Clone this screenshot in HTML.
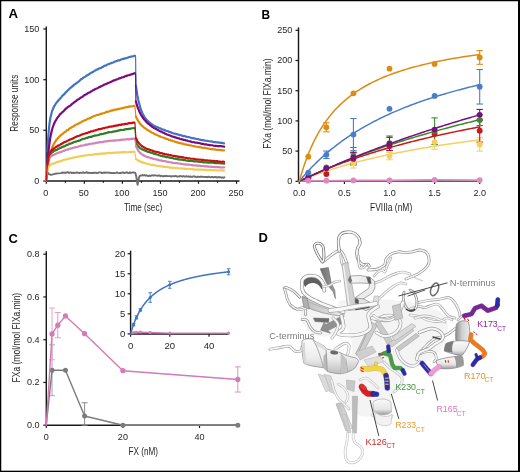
<!DOCTYPE html>
<html><head><meta charset="utf-8"><style>
html,body{margin:0;padding:0;background:#fff;}
svg{display:block;}
text{font-family:"Liberation Sans",sans-serif;}
</style></head><body>
<svg width="520" height="472" viewBox="0 0 520 472" style="will-change:transform">
<rect x="0" y="0" width="520" height="472" fill="#fff"/>
<text x="8.60" y="18.30" font-size="13.6" fill="#000" text-anchor="start" textLength="9.60" lengthAdjust="spacingAndGlyphs" font-weight="bold">A</text>
<line x1="46.30" y1="26.50" x2="46.30" y2="181.60" stroke="#1a1a1a" stroke-width="1.45"/>
<line x1="45.70" y1="181.00" x2="239.50" y2="181.00" stroke="#1a1a1a" stroke-width="1.45"/>
<line x1="43.30" y1="29.00" x2="46.30" y2="29.00" stroke="#1a1a1a" stroke-width="1.2"/>
<text x="39.30" y="31.90" font-size="9.8" fill="#231f20" text-anchor="end" textLength="15.15" lengthAdjust="spacingAndGlyphs">150</text>
<line x1="43.30" y1="79.70" x2="46.30" y2="79.70" stroke="#1a1a1a" stroke-width="1.2"/>
<text x="39.30" y="82.60" font-size="9.8" fill="#231f20" text-anchor="end" textLength="15.15" lengthAdjust="spacingAndGlyphs">100</text>
<line x1="43.30" y1="130.30" x2="46.30" y2="130.30" stroke="#1a1a1a" stroke-width="1.2"/>
<text x="39.30" y="133.20" font-size="9.8" fill="#231f20" text-anchor="end" textLength="10.10" lengthAdjust="spacingAndGlyphs">50</text>
<line x1="43.30" y1="181.00" x2="46.30" y2="181.00" stroke="#1a1a1a" stroke-width="1.2"/>
<text x="39.30" y="183.90" font-size="9.8" fill="#231f20" text-anchor="end" textLength="5.05" lengthAdjust="spacingAndGlyphs">0</text>
<line x1="46.30" y1="181.00" x2="46.30" y2="183.80" stroke="#1a1a1a" stroke-width="1.2"/>
<text x="45.80" y="196.00" font-size="9.8" fill="#231f20" text-anchor="middle" textLength="5.05" lengthAdjust="spacingAndGlyphs">0</text>
<line x1="65.32" y1="181.00" x2="65.32" y2="182.80" stroke="#1a1a1a" stroke-width="1.2"/>
<line x1="84.35" y1="181.00" x2="84.35" y2="183.80" stroke="#1a1a1a" stroke-width="1.2"/>
<text x="83.85" y="196.00" font-size="9.8" fill="#231f20" text-anchor="middle" textLength="10.10" lengthAdjust="spacingAndGlyphs">50</text>
<line x1="103.38" y1="181.00" x2="103.38" y2="182.80" stroke="#1a1a1a" stroke-width="1.2"/>
<line x1="122.40" y1="181.00" x2="122.40" y2="183.80" stroke="#1a1a1a" stroke-width="1.2"/>
<text x="121.90" y="196.00" font-size="9.8" fill="#231f20" text-anchor="middle" textLength="15.15" lengthAdjust="spacingAndGlyphs">100</text>
<line x1="141.43" y1="181.00" x2="141.43" y2="182.80" stroke="#1a1a1a" stroke-width="1.2"/>
<line x1="160.45" y1="181.00" x2="160.45" y2="183.80" stroke="#1a1a1a" stroke-width="1.2"/>
<text x="159.95" y="196.00" font-size="9.8" fill="#231f20" text-anchor="middle" textLength="15.15" lengthAdjust="spacingAndGlyphs">150</text>
<line x1="179.48" y1="181.00" x2="179.48" y2="182.80" stroke="#1a1a1a" stroke-width="1.2"/>
<line x1="198.50" y1="181.00" x2="198.50" y2="183.80" stroke="#1a1a1a" stroke-width="1.2"/>
<text x="198.00" y="196.00" font-size="9.8" fill="#231f20" text-anchor="middle" textLength="15.15" lengthAdjust="spacingAndGlyphs">200</text>
<line x1="217.52" y1="181.00" x2="217.52" y2="182.80" stroke="#1a1a1a" stroke-width="1.2"/>
<line x1="236.55" y1="181.00" x2="236.55" y2="183.80" stroke="#1a1a1a" stroke-width="1.2"/>
<text x="236.05" y="196.00" font-size="9.8" fill="#231f20" text-anchor="middle" textLength="15.15" lengthAdjust="spacingAndGlyphs">250</text>
<text x="124.00" y="210.80" font-size="10.6" fill="#231f20" text-anchor="start" textLength="38.20" lengthAdjust="spacingAndGlyphs">Time (sec)</text>
<text x="0.00" y="0.00" font-size="10.6" fill="#231f20" text-anchor="middle" textLength="57.00" lengthAdjust="spacingAndGlyphs" transform="translate(18.1,103.2) rotate(-90)">Response units</text>
<path d="M46.50,181.00 L47.00,176.00 L47.50,172.50 L49.00,174.20 L51.00,174.90 L53.00,174.30 L55.00,173.80 L58.00,173.40 L61.50,173.10 L62.00,172.46 L63.00,172.74 L64.00,172.58 L65.00,172.79 L66.00,172.81 L67.00,172.31 L68.00,172.26 L69.00,173.00 L70.00,172.48 L71.00,172.46 L72.00,173.15 L73.00,172.67 L74.00,173.00 L75.00,172.68 L76.00,172.83 L77.00,172.39 L78.00,172.82 L79.00,173.03 L80.00,172.72 L81.00,172.92 L82.00,172.85 L83.00,172.31 L84.00,172.93 L85.00,172.78 L86.00,172.52 L87.00,172.28 L88.00,173.03 L89.00,172.68 L90.00,172.90 L91.00,173.04 L92.00,172.89 L93.00,173.08 L94.00,172.61 L95.00,172.97 L96.00,172.65 L97.00,173.09 L98.00,173.04 L99.00,172.34 L100.00,172.37 L101.00,172.45 L102.00,173.12 L103.00,172.64 L104.00,172.81 L105.00,172.52 L106.00,172.71 L107.00,172.60 L108.00,172.57 L109.00,172.78 L110.00,172.78 L111.00,173.06 L112.00,172.86 L113.00,173.09 L114.00,173.02 L115.00,173.14 L116.00,172.85 L117.00,172.40 L118.00,173.02 L119.00,173.12 L120.00,173.06 L121.00,172.76 L122.00,172.89 L123.00,172.44 L124.00,173.00 L125.00,172.77 L126.00,172.51 L127.00,172.31 L128.00,173.02 L129.00,173.14 L130.00,172.33 L131.00,172.97 L132.00,172.62 L133.00,172.39 L134.00,172.51 L135.20,172.60 L136.20,176.00 L137.00,181.50 L137.60,184.80 L138.30,180.50 L139.50,176.00 L140.50,175.56 L141.50,175.67 L142.50,174.96 L143.50,175.49 L144.50,175.01 L145.50,175.64 L146.50,175.32 L147.50,175.84 L148.50,175.96 L149.50,175.55 L150.50,176.02 L151.50,175.43 L152.50,175.25 L153.50,175.74 L154.50,175.26 L155.50,175.43 L156.50,175.65 L157.50,175.86 L158.50,175.48 L159.50,175.40 L160.50,176.17 L161.50,175.70 L162.50,176.30 L163.50,176.27 L164.50,175.83 L165.50,175.93 L166.50,176.01 L167.50,176.15 L168.50,176.13 L169.50,176.13 L170.50,176.21 L171.50,176.52 L172.50,176.16 L173.50,176.12 L174.50,176.40 L175.50,175.99 L176.50,176.08 L177.50,176.71 L178.50,176.33 L179.50,176.38 L180.50,175.92 L181.50,176.31 L182.50,176.49 L183.50,176.01 L184.50,176.57 L185.50,176.61 L186.50,176.12 L187.50,176.66 L188.50,176.54 L189.50,176.76 L190.50,176.49 L191.50,176.84 L192.50,176.89 L193.50,176.27 L194.50,176.33 L195.50,176.91 L196.50,177.20 L197.50,176.58 L198.50,176.79 L199.50,176.94 L200.50,176.72 L201.50,176.79 L202.50,176.77 L203.50,176.85 L204.50,177.08 L205.50,176.84 L206.50,176.93 L207.50,177.31 L208.50,176.67 L209.50,177.18 L210.50,177.36 L211.50,177.00 L212.50,176.95 L213.50,177.50 L214.50,177.02 L215.50,177.00 L216.50,177.25 L217.50,177.51 L218.50,177.00 L219.50,177.22 L220.50,177.26 L221.50,177.73 L222.50,177.41 L223.50,177.81 L224.50,177.22" fill="none" stroke="#6e6e6e" stroke-width="1.9" stroke-linejoin="round" stroke-linecap="round"/>
<path d="M46.30,181.00 L46.40,177.58 L46.60,171.24 L46.80,165.49 L47.00,160.27 L47.20,155.54 L47.40,151.25" fill="none" stroke="#4273c4" stroke-width="1.3" stroke-linejoin="round" stroke-linecap="round"/>
<path d="M47.40,151.25 L47.80,143.72 L48.20,137.72 L48.60,132.72 L49.00,128.25 L49.40,124.57 L49.80,121.52 L50.20,119.19 L50.60,116.86 L51.00,115.31 L51.40,113.72 L51.80,112.00 L52.20,110.81 L52.60,109.98 L53.00,108.91 L53.40,108.10 L53.80,107.06 L54.20,106.19 L54.60,105.57 L55.00,105.16 L55.40,104.28 L55.80,103.72 L56.20,103.18 L56.60,102.63 L57.00,102.09 L57.40,101.83 L57.80,100.94 L58.20,100.37 L58.60,100.36 L59.00,99.85 L59.40,99.44 L59.80,98.70 L60.20,98.50 L61.20,97.38 L62.20,95.94 L63.20,95.14 L64.20,94.16 L65.20,93.06 L66.20,92.00 L67.20,90.91 L68.20,89.99 L69.20,89.01 L70.20,88.01 L71.20,87.38 L72.20,86.36 L73.20,85.76 L74.20,84.54 L75.20,84.15 L76.20,83.23 L77.20,82.56 L78.20,81.77 L79.20,81.02 L80.20,80.11 L81.20,79.10 L82.20,78.75 L83.20,77.77 L84.20,77.15 L85.20,76.66 L86.20,75.93 L87.20,75.23 L88.20,74.86 L89.20,74.08 L90.20,73.33 L91.20,72.70 L92.20,72.42 L93.20,71.65 L94.20,71.25 L95.20,70.48 L96.20,69.87 L97.20,69.51 L98.20,69.14 L99.20,68.31 L100.20,68.12 L101.20,67.70 L102.20,67.17 L103.20,66.71 L104.20,65.85 L105.20,65.71 L106.20,65.39 L107.20,64.56 L108.20,64.25 L109.20,63.83 L110.20,63.56 L111.20,63.11 L112.20,62.75 L113.20,62.52 L114.20,61.76 L115.20,61.42 L116.20,61.10 L117.20,60.75 L118.20,60.37 L119.20,60.49 L120.20,60.10 L121.20,59.39 L122.20,59.28 L123.20,58.88 L124.20,58.58 L125.20,58.30 L126.20,58.15 L127.20,57.84 L128.20,57.44 L129.20,57.08 L130.20,56.88 L131.20,56.52 L132.20,56.47 L133.20,56.30 L134.20,55.89 L135.00,55.75" fill="none" stroke="#4273c4" stroke-width="2.2" stroke-linejoin="round" stroke-linecap="round"/>
<path d="M135.00,55.75 L135.60,56.95 L135.90,85.74" fill="none" stroke="#4273c4" stroke-width="1.2" stroke-linejoin="round" stroke-linecap="round"/>
<path d="M135.90,85.57 L136.30,88.48 L136.70,91.20 L137.10,93.73 L137.50,96.06 L137.90,97.98 L138.30,100.07 L138.70,101.77 L139.10,103.34 L139.50,104.84 L139.90,106.30 L140.30,107.70 L140.70,108.80 L141.10,110.04 L141.50,111.00 L141.90,111.89 L142.30,112.92 L142.70,113.84 L143.10,114.39 L143.50,115.28 L143.90,115.98 L144.30,116.82 L144.70,117.46 L145.10,117.81 L146.10,119.33 L147.10,120.43 L148.10,121.22 L149.10,122.20 L150.10,122.86 L151.10,123.87 L152.10,124.47 L153.10,125.18 L154.10,125.71 L155.10,126.20 L156.10,126.73 L157.10,127.15 L158.10,127.42 L159.10,128.06 L160.10,128.25 L161.10,128.72 L162.10,129.37 L163.10,129.47 L164.10,129.86 L165.10,130.23 L166.10,130.91 L167.10,130.98 L168.10,131.26 L169.10,131.92 L170.10,131.96 L171.10,132.58 L172.10,132.82 L173.10,133.20 L174.10,133.55 L175.10,133.70 L176.10,134.08 L177.10,134.06 L178.10,134.64 L179.10,134.81 L180.10,135.17 L181.10,135.19 L182.10,135.71 L183.10,136.04 L184.10,135.95 L185.10,136.30 L186.10,136.64 L187.10,136.99 L188.10,136.99 L189.10,137.20 L190.10,137.45 L191.10,137.82 L192.10,138.10 L193.10,138.17 L194.10,138.37 L195.10,138.59 L196.10,138.77 L197.10,139.00 L198.10,139.06 L199.10,139.43 L200.10,139.80 L201.10,139.77 L202.10,140.08 L203.10,140.03 L204.10,140.42 L205.10,140.62 L206.10,140.76 L207.10,140.86 L208.10,141.01 L209.10,141.24 L210.10,141.50 L211.10,141.36 L212.10,141.49 L213.10,141.90 L214.10,142.11 L215.10,142.10 L216.10,142.21 L217.10,142.46 L218.10,142.39 L219.10,142.56 L220.10,142.66 L221.10,142.95 L222.10,142.97 L223.10,143.06 L224.10,143.37" fill="none" stroke="#4273c4" stroke-width="2.2" stroke-linejoin="round" stroke-linecap="round"/>
<path d="M46.30,181.00 L46.40,179.19 L46.60,175.72 L46.80,172.46 L47.00,169.39 L47.20,166.50 L47.40,163.78" fill="none" stroke="#7b0a80" stroke-width="1.3" stroke-linejoin="round" stroke-linecap="round"/>
<path d="M47.40,163.78 L47.80,159.02 L48.20,154.27 L48.60,150.54 L49.00,146.88 L49.40,143.97 L49.80,141.03 L50.20,138.36 L50.60,136.09 L51.00,133.96 L51.40,132.36 L51.80,130.66 L52.20,129.05 L52.60,127.78 L53.00,126.51 L53.40,125.60 L53.80,124.24 L54.20,123.69 L54.60,122.54 L55.00,121.77 L55.40,120.93 L55.80,120.39 L56.20,119.70 L56.60,118.92 L57.00,118.28 L57.40,117.82 L57.80,117.33 L58.20,116.58 L58.60,116.24 L59.00,115.86 L59.40,115.14 L59.80,114.57 L60.20,114.13 L61.20,113.32 L62.20,112.30 L63.20,111.49 L64.20,110.52 L65.20,109.33 L66.20,108.45 L67.20,107.65 L68.20,106.79 L69.20,106.25 L70.20,105.54 L71.20,104.78 L72.20,103.70 L73.20,103.26 L74.20,102.25 L75.20,101.58 L76.20,101.02 L77.20,99.99 L78.20,99.30 L79.20,98.99 L80.20,98.05 L81.20,97.42 L82.20,96.88 L83.20,96.29 L84.20,95.32 L85.20,94.87 L86.20,94.30 L87.20,93.72 L88.20,92.99 L89.20,92.59 L90.20,92.20 L91.20,91.35 L92.20,90.87 L93.20,90.10 L94.20,89.63 L95.20,89.29 L96.20,88.49 L97.20,88.36 L98.20,87.85 L99.20,86.94 L100.20,86.87 L101.20,86.10 L102.20,85.81 L103.20,85.33 L104.20,84.63 L105.20,84.36 L106.20,83.89 L107.20,83.52 L108.20,82.81 L109.20,82.62 L110.20,82.29 L111.20,81.73 L112.20,81.24 L113.20,80.62 L114.20,80.41 L115.20,79.94 L116.20,79.73 L117.20,79.32 L118.20,78.89 L119.20,78.32 L120.20,78.18 L121.20,77.81 L122.20,77.23 L123.20,77.23 L124.20,76.77 L125.20,76.16 L126.20,76.23 L127.20,75.50 L128.20,75.27 L129.20,75.14 L130.20,74.76 L131.20,74.42 L132.20,74.16 L133.20,73.76 L134.20,73.39 L135.00,73.25" fill="none" stroke="#7b0a80" stroke-width="2.2" stroke-linejoin="round" stroke-linecap="round"/>
<path d="M135.00,73.25 L135.60,74.45 L135.90,101.53" fill="none" stroke="#7b0a80" stroke-width="1.2" stroke-linejoin="round" stroke-linecap="round"/>
<path d="M135.90,101.40 L136.30,102.81 L136.70,104.42 L137.10,105.71 L137.50,106.82 L137.90,108.03 L138.30,108.93 L138.70,109.90 L139.10,110.89 L139.50,111.97 L139.90,112.49 L140.30,113.47 L140.70,114.13 L141.10,115.05 L141.50,115.57 L141.90,116.22 L142.30,116.86 L142.70,117.51 L143.10,118.17 L143.50,118.55 L143.90,119.26 L144.30,119.47 L144.70,120.01 L145.10,120.40 L146.10,121.48 L147.10,122.74 L148.10,123.63 L149.10,124.26 L150.10,125.05 L151.10,125.88 L152.10,126.72 L153.10,127.41 L154.10,128.02 L155.10,128.57 L156.10,128.97 L157.10,129.63 L158.10,130.09 L159.10,130.74 L160.10,131.26 L161.10,131.60 L162.10,132.10 L163.10,132.77 L164.10,132.91 L165.10,133.66 L166.10,134.11 L167.10,134.55 L168.10,134.72 L169.10,135.18 L170.10,135.57 L171.10,135.96 L172.10,136.46 L173.10,136.69 L174.10,136.88 L175.10,137.44 L176.10,137.61 L177.10,137.98 L178.10,138.34 L179.10,138.35 L180.10,138.95 L181.10,139.20 L182.10,139.41 L183.10,139.69 L184.10,139.94 L185.10,140.09 L186.10,140.48 L187.10,140.53 L188.10,140.96 L189.10,141.25 L190.10,141.40 L191.10,141.68 L192.10,142.05 L193.10,142.24 L194.10,142.15 L195.10,142.62 L196.10,142.75 L197.10,142.71 L198.10,143.03 L199.10,143.16 L200.10,143.28 L201.10,143.64 L202.10,143.97 L203.10,143.89 L204.10,144.28 L205.10,144.37 L206.10,144.30 L207.10,144.74 L208.10,144.78 L209.10,145.06 L210.10,145.12 L211.10,145.26 L212.10,145.24 L213.10,145.56 L214.10,145.74 L215.10,145.83 L216.10,145.79 L217.10,146.03 L218.10,146.04 L219.10,146.00 L220.10,146.09 L221.10,146.21 L222.10,146.36 L223.10,146.45 L224.10,146.69" fill="none" stroke="#7b0a80" stroke-width="2.2" stroke-linejoin="round" stroke-linecap="round"/>
<path d="M46.30,181.00 L46.40,179.91 L46.60,177.83 L46.80,175.85 L47.00,173.98 L47.20,172.21 L47.40,170.53" fill="none" stroke="#e08a00" stroke-width="1.3" stroke-linejoin="round" stroke-linecap="round"/>
<path d="M47.40,170.53 L47.80,167.54 L48.20,164.67 L48.60,162.10 L49.00,159.95 L49.40,157.73 L49.80,155.96 L50.20,154.42 L50.60,152.71 L51.00,151.20 L51.40,150.27 L51.80,149.01 L52.20,147.75 L52.60,146.76 L53.00,145.92 L53.40,145.10 L53.80,144.11 L54.20,143.26 L54.60,142.67 L55.00,142.30 L55.40,141.36 L55.80,140.94 L56.20,140.25 L56.60,139.73 L57.00,139.20 L57.40,138.84 L57.80,138.26 L58.20,137.74 L58.60,137.36 L59.00,136.97 L59.40,136.73 L59.80,136.12 L60.20,135.72 L61.20,135.03 L62.20,134.15 L63.20,133.48 L64.20,132.36 L65.20,131.78 L66.20,131.05 L67.20,130.15 L68.20,129.93 L69.20,128.88 L70.20,128.16 L71.20,127.71 L72.20,126.93 L73.20,126.55 L74.20,125.81 L75.20,125.12 L76.20,124.51 L77.20,124.29 L78.20,123.51 L79.20,123.23 L80.20,122.55 L81.20,122.26 L82.20,121.45 L83.20,120.93 L84.20,120.45 L85.20,120.26 L86.20,119.70 L87.20,119.11 L88.20,118.54 L89.20,118.40 L90.20,118.12 L91.20,117.51 L92.20,116.81 L93.20,116.43 L94.20,116.07 L95.20,115.72 L96.20,115.28 L97.20,114.93 L98.20,114.87 L99.20,114.64 L100.20,113.95 L101.20,114.00 L102.20,113.42 L103.20,113.26 L104.20,113.00 L105.20,112.70 L106.20,111.95 L107.20,111.79 L108.20,111.65 L109.20,111.53 L110.20,110.83 L111.20,110.66 L112.20,110.67 L113.20,110.04 L114.20,109.92 L115.20,109.64 L116.20,109.57 L117.20,109.46 L118.20,108.84 L119.20,108.90 L120.20,108.67 L121.20,108.50 L122.20,108.14 L123.20,108.12 L124.20,107.63 L125.20,107.45 L126.20,107.16 L127.20,107.24 L128.20,106.90 L129.20,106.61 L130.20,106.38 L131.20,106.48 L132.20,106.25 L133.20,106.13 L134.20,105.80 L134.40,105.82" fill="none" stroke="#e08a00" stroke-width="2.2" stroke-linejoin="round" stroke-linecap="round"/>
<path d="M134.40,105.82 L135.00,107.02 L135.90,116.56" fill="none" stroke="#e08a00" stroke-width="1.2" stroke-linejoin="round" stroke-linecap="round"/>
<path d="M135.90,116.55 L136.30,117.30 L136.70,118.35 L137.10,118.85 L137.50,119.76 L137.90,120.56 L138.30,121.17 L138.70,121.55 L139.10,122.18 L139.50,122.97 L139.90,123.41 L140.30,124.00 L140.70,124.46 L141.10,124.74 L141.50,125.35 L141.90,125.69 L142.30,125.92 L142.70,126.32 L143.10,126.56 L143.50,127.04 L143.90,127.60 L144.30,127.59 L144.70,128.09 L145.10,128.21 L146.10,128.93 L147.10,129.84 L148.10,130.32 L149.10,130.86 L150.10,131.48 L151.10,132.24 L152.10,132.75 L153.10,133.04 L154.10,133.63 L155.10,134.41 L156.10,134.58 L157.10,135.17 L158.10,135.56 L159.10,136.14 L160.10,136.49 L161.10,136.97 L162.10,137.27 L163.10,137.52 L164.10,137.90 L165.10,138.24 L166.10,138.90 L167.10,138.97 L168.10,139.28 L169.10,140.00 L170.10,140.02 L171.10,140.63 L172.10,140.62 L173.10,141.08 L174.10,141.29 L175.10,141.83 L176.10,142.03 L177.10,142.33 L178.10,142.65 L179.10,142.97 L180.10,143.02 L181.10,143.39 L182.10,143.58 L183.10,143.69 L184.10,144.22 L185.10,144.36 L186.10,144.68 L187.10,144.66 L188.10,145.02 L189.10,145.20 L190.10,145.52 L191.10,145.47 L192.10,145.78 L193.10,146.03 L194.10,146.06 L195.10,146.44 L196.10,146.70 L197.10,146.75 L198.10,147.02 L199.10,147.18 L200.10,147.19 L201.10,147.41 L202.10,147.83 L203.10,147.72 L204.10,147.91 L205.10,147.93 L206.10,148.13 L207.10,148.25 L208.10,148.70 L209.10,148.75 L210.10,148.95 L211.10,149.12 L212.10,149.10 L213.10,149.36 L214.10,149.32 L215.10,149.40 L216.10,149.72 L217.10,149.82 L218.10,149.95 L219.10,149.88 L220.10,150.10 L221.10,150.06 L222.10,150.40 L223.10,150.47 L224.10,150.31" fill="none" stroke="#e08a00" stroke-width="2.2" stroke-linejoin="round" stroke-linecap="round"/>
<path d="M46.30,181.00 L46.40,179.06 L46.60,175.59 L46.80,172.59 L47.00,170.00 L47.20,167.75 L47.40,165.81" fill="none" stroke="#2e7d22" stroke-width="1.3" stroke-linejoin="round" stroke-linecap="round"/>
<path d="M47.40,165.81 L47.80,162.88 L48.20,160.12 L48.60,158.25 L49.00,157.16 L49.40,155.86 L49.80,155.11 L50.20,154.48 L50.60,153.61 L51.00,153.49 L51.40,152.85 L51.80,152.57 L52.20,152.21 L52.60,152.12 L53.00,151.86 L53.40,151.38 L53.80,151.05 L54.20,150.92 L54.60,150.75 L55.00,150.37 L55.40,150.20 L55.80,150.29 L56.20,150.06 L56.60,149.99 L57.00,149.80 L57.40,149.55 L57.80,149.10 L58.20,148.80 L58.60,148.68 L59.00,148.57 L59.40,148.41 L59.80,148.23 L60.20,147.95 L61.20,147.74 L62.20,147.00 L63.20,146.65 L64.20,146.42 L65.20,145.95 L66.20,145.27 L67.20,144.82 L68.20,144.69 L69.20,143.89 L70.20,143.56 L71.20,143.36 L72.20,142.98 L73.20,142.42 L74.20,141.99 L75.20,141.70 L76.20,141.62 L77.20,141.11 L78.20,141.02 L79.20,140.58 L80.20,140.34 L81.20,139.54 L82.20,139.29 L83.20,138.88 L84.20,138.77 L85.20,138.41 L86.20,137.96 L87.20,137.91 L88.20,137.39 L89.20,137.20 L90.20,136.89 L91.20,136.88 L92.20,136.41 L93.20,136.06 L94.20,135.68 L95.20,135.61 L96.20,135.45 L97.20,135.22 L98.20,135.08 L99.20,134.79 L100.20,134.26 L101.20,133.97 L102.20,134.04 L103.20,133.82 L104.20,133.46 L105.20,133.39 L106.20,133.03 L107.20,132.68 L108.20,132.41 L109.20,132.12 L110.20,132.23 L111.20,132.15 L112.20,131.96 L113.20,131.54 L114.20,131.45 L115.20,131.39 L116.20,131.14 L117.20,130.85 L118.20,130.58 L119.20,130.45 L120.20,130.10 L121.20,129.93 L122.20,130.01 L123.20,130.00 L124.20,129.61 L125.20,129.38 L126.20,129.20 L127.20,129.09 L128.20,129.11 L129.20,128.78 L130.20,128.89 L131.20,128.34 L132.20,128.27 L133.20,128.24 L134.20,128.04 L134.40,128.06" fill="none" stroke="#2e7d22" stroke-width="2.2" stroke-linejoin="round" stroke-linecap="round"/>
<path d="M134.40,128.06 L135.00,129.26 L135.90,140.91" fill="none" stroke="#2e7d22" stroke-width="1.2" stroke-linejoin="round" stroke-linecap="round"/>
<path d="M135.90,141.05 L136.30,142.51 L136.70,143.72 L137.10,144.54 L137.50,145.08 L137.90,145.94 L138.30,146.47 L138.70,146.90 L139.10,147.21 L139.50,147.72 L139.90,148.11 L140.30,148.06 L140.70,148.54 L141.10,148.66 L141.50,148.94 L141.90,149.30 L142.30,149.52 L142.70,149.58 L143.10,149.59 L143.50,150.06 L143.90,149.93 L144.30,150.18 L144.70,150.53 L145.10,150.49 L146.10,150.87 L147.10,151.52 L148.10,151.89 L149.10,152.00 L150.10,152.38 L151.10,152.68 L152.10,152.95 L153.10,153.32 L154.10,153.93 L155.10,153.87 L156.10,154.23 L157.10,154.51 L158.10,154.74 L159.10,155.19 L160.10,155.55 L161.10,155.85 L162.10,156.02 L163.10,156.34 L164.10,156.25 L165.10,156.59 L166.10,157.09 L167.10,156.96 L168.10,157.25 L169.10,157.54 L170.10,157.66 L171.10,157.97 L172.10,157.96 L173.10,158.23 L174.10,158.70 L175.10,158.55 L176.10,159.03 L177.10,158.90 L178.10,159.39 L179.10,159.42 L180.10,159.57 L181.10,159.52 L182.10,159.63 L183.10,160.05 L184.10,159.96 L185.10,160.10 L186.10,160.48 L187.10,160.63 L188.10,160.42 L189.10,160.91 L190.10,160.86 L191.10,160.91 L192.10,160.91 L193.10,161.13 L194.10,161.48 L195.10,161.30 L196.10,161.34 L197.10,161.44 L198.10,161.53 L199.10,161.71 L200.10,162.03 L201.10,161.78 L202.10,161.91 L203.10,162.29 L204.10,162.39 L205.10,162.47 L206.10,162.25 L207.10,162.37 L208.10,162.68 L209.10,162.56 L210.10,162.72 L211.10,162.63 L212.10,162.57 L213.10,162.77 L214.10,162.99 L215.10,163.06 L216.10,163.04 L217.10,163.05 L218.10,163.13 L219.10,163.15 L220.10,163.24 L221.10,163.41 L222.10,163.20 L223.10,163.41 L224.10,163.59" fill="none" stroke="#2e7d22" stroke-width="2.2" stroke-linejoin="round" stroke-linecap="round"/>
<path d="M46.30,181.00 L46.40,178.95 L46.60,175.37 L46.80,172.38 L47.00,169.86 L47.20,167.76 L47.40,165.99" fill="none" stroke="#d680b8" stroke-width="1.3" stroke-linejoin="round" stroke-linecap="round"/>
<path d="M47.40,165.99 L47.80,163.41 L48.20,161.12 L48.60,160.09 L49.00,158.98 L49.40,157.87 L49.80,157.32 L50.20,156.81 L50.60,156.35 L51.00,156.49 L51.40,155.93 L51.80,155.91 L52.20,155.30 L52.60,155.04 L53.00,155.27 L53.40,155.03 L53.80,154.95 L54.20,154.61 L54.60,154.35 L55.00,154.30 L55.40,153.79 L55.80,153.84 L56.20,153.63 L56.60,153.31 L57.00,153.37 L57.40,153.07 L57.80,153.00 L58.20,152.78 L58.60,152.59 L59.00,152.46 L59.40,152.42 L59.80,152.46 L60.20,152.29 L61.20,151.87 L62.20,151.50 L63.20,150.87 L64.20,150.86 L65.20,150.17 L66.20,149.76 L67.20,149.63 L68.20,149.43 L69.20,148.92 L70.20,148.77 L71.20,148.29 L72.20,148.35 L73.20,147.81 L74.20,147.55 L75.20,147.30 L76.20,147.21 L77.20,147.01 L78.20,146.53 L79.20,146.24 L80.20,146.09 L81.20,145.59 L82.20,145.54 L83.20,145.52 L84.20,145.27 L85.20,144.70 L86.20,144.89 L87.20,144.45 L88.20,144.55 L89.20,144.05 L90.20,143.78 L91.20,143.77 L92.20,143.75 L93.20,143.35 L94.20,143.40 L95.20,143.15 L96.20,142.81 L97.20,142.62 L98.20,142.57 L99.20,142.36 L100.20,142.20 L101.20,142.19 L102.20,142.16 L103.20,141.88 L104.20,141.52 L105.20,141.42 L106.20,141.37 L107.20,141.37 L108.20,141.00 L109.20,140.85 L110.20,140.85 L111.20,140.72 L112.20,140.48 L113.20,140.63 L114.20,140.71 L115.20,140.41 L116.20,140.41 L117.20,140.35 L118.20,140.26 L119.20,140.20 L120.20,139.87 L121.20,139.90 L122.20,139.53 L123.20,139.83 L124.20,139.49 L125.20,139.45 L126.20,139.58 L127.20,139.20 L128.20,139.07 L129.20,139.31 L130.20,139.13 L131.20,138.80 L132.20,138.70 L133.20,138.79 L134.20,138.55 L134.40,138.79" fill="none" stroke="#d680b8" stroke-width="2.2" stroke-linejoin="round" stroke-linecap="round"/>
<path d="M134.40,138.79 L135.00,139.99 L135.90,145.98" fill="none" stroke="#d680b8" stroke-width="1.2" stroke-linejoin="round" stroke-linecap="round"/>
<path d="M135.90,146.11 L136.30,146.83 L136.70,147.74 L137.10,148.59 L137.50,149.37 L137.90,150.00 L138.30,150.68 L138.70,151.25 L139.10,151.66 L139.50,151.99 L139.90,152.77 L140.30,153.05 L140.70,153.17 L141.10,153.66 L141.50,154.10 L141.90,154.48 L142.30,154.39 L142.70,154.62 L143.10,155.05 L143.50,155.25 L143.90,155.66 L144.30,155.83 L144.70,155.83 L145.10,156.05 L146.10,156.54 L147.10,157.04 L148.10,157.12 L149.10,157.53 L150.10,157.71 L151.10,158.22 L152.10,158.25 L153.10,158.88 L154.10,158.97 L155.10,159.24 L156.10,159.28 L157.10,159.57 L158.10,159.89 L159.10,160.26 L160.10,160.35 L161.10,160.46 L162.10,160.94 L163.10,161.01 L164.10,161.15 L165.10,161.21 L166.10,161.43 L167.10,161.86 L168.10,161.73 L169.10,162.06 L170.10,162.26 L171.10,162.32 L172.10,162.65 L173.10,162.87 L174.10,163.00 L175.10,163.11 L176.10,163.04 L177.10,163.13 L178.10,163.42 L179.10,163.51 L180.10,163.60 L181.10,164.01 L182.10,163.87 L183.10,164.24 L184.10,164.41 L185.10,164.21 L186.10,164.65 L187.10,164.56 L188.10,164.60 L189.10,164.70 L190.10,164.75 L191.10,165.04 L192.10,165.10 L193.10,165.39 L194.10,165.48 L195.10,165.27 L196.10,165.50 L197.10,165.59 L198.10,165.60 L199.10,165.72 L200.10,165.81 L201.10,166.07 L202.10,166.01 L203.10,166.01 L204.10,166.13 L205.10,166.30 L206.10,166.42 L207.10,166.37 L208.10,166.63 L209.10,166.51 L210.10,166.76 L211.10,166.80 L212.10,166.70 L213.10,166.99 L214.10,166.92 L215.10,167.04 L216.10,167.12 L217.10,167.20 L218.10,167.18 L219.10,167.09 L220.10,167.43 L221.10,167.52 L222.10,167.43 L223.10,167.51 L224.10,167.44" fill="none" stroke="#d680b8" stroke-width="2.2" stroke-linejoin="round" stroke-linecap="round"/>
<path d="M46.30,181.00 L46.40,179.41 L46.60,176.71 L46.80,174.55 L47.00,172.80 L47.20,171.39 L47.40,170.25" fill="none" stroke="#f0cd55" stroke-width="1.3" stroke-linejoin="round" stroke-linecap="round"/>
<path d="M47.40,170.25 L47.80,168.77 L48.20,167.52 L48.60,166.51 L49.00,166.24 L49.40,165.90 L49.80,165.25 L50.20,165.30 L50.60,164.81 L51.00,164.45 L51.40,164.52 L51.80,164.15 L52.20,164.17 L52.60,163.92 L53.00,163.52 L53.40,163.57 L53.80,163.57 L54.20,163.23 L54.60,163.10 L55.00,163.11 L55.40,162.76 L55.80,162.63 L56.20,162.53 L56.60,162.51 L57.00,162.05 L57.40,161.86 L57.80,162.05 L58.20,161.81 L58.60,161.55 L59.00,161.71 L59.40,161.57 L59.80,161.27 L60.20,161.37 L61.20,160.97 L62.20,160.62 L63.20,160.10 L64.20,159.67 L65.20,159.72 L66.20,159.48 L67.20,159.03 L68.20,158.84 L69.20,158.63 L70.20,158.24 L71.20,158.23 L72.20,157.94 L73.20,157.63 L74.20,157.28 L75.20,157.30 L76.20,156.98 L77.20,156.99 L78.20,156.53 L79.20,156.46 L80.20,156.19 L81.20,156.12 L82.20,156.04 L83.20,155.65 L84.20,155.47 L85.20,155.53 L86.20,155.25 L87.20,155.26 L88.20,154.95 L89.20,154.78 L90.20,154.87 L91.20,154.94 L92.20,154.79 L93.20,154.50 L94.20,154.33 L95.20,154.05 L96.20,154.05 L97.20,153.97 L98.20,154.18 L99.20,153.67 L100.20,153.99 L101.20,153.67 L102.20,153.56 L103.20,153.38 L104.20,153.65 L105.20,153.18 L106.20,153.30 L107.20,153.19 L108.20,152.96 L109.20,152.90 L110.20,153.21 L111.20,153.05 L112.20,152.96 L113.20,152.98 L114.20,152.51 L115.20,152.76 L116.20,152.72 L117.20,152.41 L118.20,152.47 L119.20,152.67 L120.20,152.30 L121.20,152.47 L122.20,152.12 L123.20,152.33 L124.20,152.08 L125.20,152.16 L126.20,152.05 L127.20,152.26 L128.20,152.16 L129.20,152.00 L130.20,152.05 L131.20,151.89 L132.20,152.04 L133.20,151.73 L134.20,151.84 L134.40,151.81" fill="none" stroke="#f0cd55" stroke-width="2.2" stroke-linejoin="round" stroke-linecap="round"/>
<path d="M134.40,151.81 L135.00,153.01 L135.90,158.94" fill="none" stroke="#f0cd55" stroke-width="1.2" stroke-linejoin="round" stroke-linecap="round"/>
<path d="M135.90,158.97 L136.30,159.18 L136.70,159.32 L137.10,159.63 L137.50,160.07 L137.90,160.14 L138.30,160.58 L138.70,160.70 L139.10,161.08 L139.50,161.24 L139.90,161.38 L140.30,161.42 L140.70,161.46 L141.10,161.83 L141.50,162.07 L141.90,162.30 L142.30,162.16 L142.70,162.29 L143.10,162.76 L143.50,162.79 L143.90,162.82 L144.30,163.05 L144.70,162.94 L145.10,163.22 L146.10,163.55 L147.10,163.79 L148.10,163.87 L149.10,164.10 L150.10,164.52 L151.10,164.83 L152.10,164.74 L153.10,164.88 L154.10,165.10 L155.10,165.56 L156.10,165.57 L157.10,165.77 L158.10,166.14 L159.10,166.14 L160.10,166.15 L161.10,166.47 L162.10,166.33 L163.10,166.58 L164.10,166.88 L165.10,166.80 L166.10,166.87 L167.10,167.18 L168.10,167.22 L169.10,167.59 L170.10,167.35 L171.10,167.74 L172.10,167.68 L173.10,167.95 L174.10,167.90 L175.10,168.08 L176.10,168.04 L177.10,168.09 L178.10,168.27 L179.10,168.49 L180.10,168.39 L181.10,168.43 L182.10,168.58 L183.10,168.53 L184.10,168.69 L185.10,168.86 L186.10,168.92 L187.10,169.01 L188.10,168.95 L189.10,168.91 L190.10,168.97 L191.10,169.16 L192.10,169.16 L193.10,169.36 L194.10,169.30 L195.10,169.55 L196.10,169.54 L197.10,169.61 L198.10,169.69 L199.10,169.65 L200.10,169.66 L201.10,169.66 L202.10,169.61 L203.10,169.94 L204.10,169.87 L205.10,169.75 L206.10,170.12 L207.10,170.02 L208.10,170.07 L209.10,170.03 L210.10,169.94 L211.10,170.33 L212.10,170.03 L213.10,170.14 L214.10,170.42 L215.10,170.10 L216.10,170.28 L217.10,170.30 L218.10,170.24 L219.10,170.54 L220.10,170.36 L221.10,170.22 L222.10,170.43 L223.10,170.27 L224.10,170.58" fill="none" stroke="#f0cd55" stroke-width="2.2" stroke-linejoin="round" stroke-linecap="round"/>
<path d="M46.30,181.00 L46.40,178.94 L46.60,175.24 L46.80,172.03 L47.00,169.25 L47.20,166.84 L47.40,164.74" fill="none" stroke="#c81010" stroke-width="1.3" stroke-linejoin="round" stroke-linecap="round"/>
<path d="M47.40,164.74 L47.80,161.52 L48.20,158.94 L48.60,156.51 L49.00,155.28 L49.40,153.87 L49.80,152.99 L50.20,152.11 L50.60,151.46 L51.00,150.83 L51.40,150.60 L51.80,149.91 L52.20,149.97 L52.60,149.17 L53.00,149.31 L53.40,148.62 L53.80,148.27 L54.20,148.33 L54.60,147.95 L55.00,147.81 L55.40,147.42 L55.80,147.23 L56.20,146.71 L56.60,146.76 L57.00,146.44 L57.40,146.43 L57.80,145.71 L58.20,145.51 L58.60,145.58 L59.00,145.48 L59.40,145.00 L59.80,144.92 L60.20,144.62 L61.20,143.98 L62.20,143.48 L63.20,143.01 L64.20,142.21 L65.20,141.83 L66.20,141.55 L67.20,140.82 L68.20,140.44 L69.20,139.86 L70.20,139.45 L71.20,139.14 L72.20,138.74 L73.20,138.40 L74.20,137.73 L75.20,137.18 L76.20,136.83 L77.20,136.29 L78.20,135.98 L79.20,135.76 L80.20,135.39 L81.20,134.83 L82.20,134.43 L83.20,134.03 L84.20,133.71 L85.20,133.53 L86.20,133.06 L87.20,133.04 L88.20,132.56 L89.20,132.12 L90.20,131.85 L91.20,131.35 L92.20,131.39 L93.20,131.10 L94.20,130.61 L95.20,130.51 L96.20,130.00 L97.20,129.70 L98.20,129.43 L99.20,129.15 L100.20,129.10 L101.20,128.86 L102.20,128.65 L103.20,128.09 L104.20,128.18 L105.20,127.80 L106.20,127.52 L107.20,127.36 L108.20,127.10 L109.20,126.76 L110.20,126.65 L111.20,126.56 L112.20,126.39 L113.20,126.29 L114.20,125.73 L115.20,125.88 L116.20,125.64 L117.20,125.41 L118.20,125.36 L119.20,124.76 L120.20,124.90 L121.20,124.79 L122.20,124.23 L123.20,124.30 L124.20,124.31 L125.20,123.82 L126.20,123.95 L127.20,123.82 L128.20,123.43 L129.20,123.14 L130.20,123.03 L131.20,123.19 L132.20,122.85 L133.20,122.65 L134.20,122.58 L134.40,122.59" fill="none" stroke="#c81010" stroke-width="2.2" stroke-linejoin="round" stroke-linecap="round"/>
<path d="M134.40,122.59 L135.00,123.79 L135.90,138.04" fill="none" stroke="#c81010" stroke-width="1.2" stroke-linejoin="round" stroke-linecap="round"/>
<path d="M135.90,138.21 L136.30,138.84 L136.70,139.56 L137.10,140.68 L137.50,141.12 L137.90,141.78 L138.30,142.59 L138.70,142.85 L139.10,143.27 L139.50,144.05 L139.90,144.21 L140.30,144.60 L140.70,145.25 L141.10,145.32 L141.50,145.91 L141.90,145.98 L142.30,146.26 L142.70,146.49 L143.10,146.88 L143.50,147.13 L143.90,147.29 L144.30,147.56 L144.70,147.68 L145.10,148.10 L146.10,148.61 L147.10,148.97 L148.10,149.40 L149.10,149.47 L150.10,149.90 L151.10,150.21 L152.10,150.52 L153.10,151.15 L154.10,151.43 L155.10,151.72 L156.10,151.86 L157.10,151.96 L158.10,152.35 L159.10,152.46 L160.10,153.05 L161.10,153.05 L162.10,153.30 L163.10,153.80 L164.10,153.74 L165.10,154.25 L166.10,154.23 L167.10,154.59 L168.10,154.58 L169.10,155.11 L170.10,155.11 L171.10,155.29 L172.10,155.61 L173.10,155.78 L174.10,155.84 L175.10,155.97 L176.10,156.33 L177.10,156.29 L178.10,156.80 L179.10,156.76 L180.10,156.86 L181.10,157.09 L182.10,157.16 L183.10,157.40 L184.10,157.65 L185.10,157.75 L186.10,157.86 L187.10,157.99 L188.10,158.21 L189.10,158.47 L190.10,158.47 L191.10,158.74 L192.10,158.75 L193.10,158.74 L194.10,158.88 L195.10,159.28 L196.10,159.25 L197.10,159.33 L198.10,159.50 L199.10,159.75 L200.10,159.67 L201.10,159.77 L202.10,159.88 L203.10,159.85 L204.10,160.16 L205.10,160.24 L206.10,160.34 L207.10,160.42 L208.10,160.52 L209.10,160.71 L210.10,160.59 L211.10,161.00 L212.10,160.74 L213.10,161.13 L214.10,160.93 L215.10,161.27 L216.10,161.13 L217.10,161.14 L218.10,161.40 L219.10,161.60 L220.10,161.67 L221.10,161.76 L222.10,161.87 L223.10,161.57 L224.10,161.77" fill="none" stroke="#c81010" stroke-width="2.2" stroke-linejoin="round" stroke-linecap="round"/>
<text x="261.40" y="18.90" font-size="13.6" fill="#000" text-anchor="start" textLength="8.60" lengthAdjust="spacingAndGlyphs" font-weight="bold">B</text>
<line x1="298.50" y1="27.40" x2="298.50" y2="181.90" stroke="#1a1a1a" stroke-width="1.45"/>
<line x1="297.90" y1="181.30" x2="480.30" y2="181.30" stroke="#1a1a1a" stroke-width="1.45"/>
<line x1="295.50" y1="181.30" x2="298.50" y2="181.30" stroke="#1a1a1a" stroke-width="1.2"/>
<text x="292.40" y="184.20" font-size="9.8" fill="#231f20" text-anchor="end" textLength="5.05" lengthAdjust="spacingAndGlyphs">0</text>
<line x1="295.50" y1="151.10" x2="298.50" y2="151.10" stroke="#1a1a1a" stroke-width="1.2"/>
<text x="292.40" y="154.00" font-size="9.8" fill="#231f20" text-anchor="end" textLength="10.10" lengthAdjust="spacingAndGlyphs">50</text>
<line x1="295.50" y1="120.90" x2="298.50" y2="120.90" stroke="#1a1a1a" stroke-width="1.2"/>
<text x="292.40" y="123.80" font-size="9.8" fill="#231f20" text-anchor="end" textLength="15.15" lengthAdjust="spacingAndGlyphs">100</text>
<line x1="295.50" y1="90.70" x2="298.50" y2="90.70" stroke="#1a1a1a" stroke-width="1.2"/>
<text x="292.40" y="93.60" font-size="9.8" fill="#231f20" text-anchor="end" textLength="15.15" lengthAdjust="spacingAndGlyphs">150</text>
<line x1="295.50" y1="60.50" x2="298.50" y2="60.50" stroke="#1a1a1a" stroke-width="1.2"/>
<text x="292.40" y="63.40" font-size="9.8" fill="#231f20" text-anchor="end" textLength="15.15" lengthAdjust="spacingAndGlyphs">200</text>
<line x1="295.50" y1="30.30" x2="298.50" y2="30.30" stroke="#1a1a1a" stroke-width="1.2"/>
<text x="292.40" y="33.20" font-size="9.8" fill="#231f20" text-anchor="end" textLength="15.15" lengthAdjust="spacingAndGlyphs">250</text>
<line x1="299.30" y1="181.30" x2="299.30" y2="184.10" stroke="#1a1a1a" stroke-width="1.2"/>
<text x="299.30" y="195.80" font-size="9.8" fill="#231f20" text-anchor="middle" textLength="12.60" lengthAdjust="spacingAndGlyphs">0.0</text>
<line x1="344.40" y1="181.30" x2="344.40" y2="184.10" stroke="#1a1a1a" stroke-width="1.2"/>
<text x="344.40" y="195.80" font-size="9.8" fill="#231f20" text-anchor="middle" textLength="12.60" lengthAdjust="spacingAndGlyphs">0.5</text>
<line x1="389.50" y1="181.30" x2="389.50" y2="184.10" stroke="#1a1a1a" stroke-width="1.2"/>
<text x="389.50" y="195.80" font-size="9.8" fill="#231f20" text-anchor="middle" textLength="12.60" lengthAdjust="spacingAndGlyphs">1.0</text>
<line x1="434.60" y1="181.30" x2="434.60" y2="184.10" stroke="#1a1a1a" stroke-width="1.2"/>
<text x="434.60" y="195.80" font-size="9.8" fill="#231f20" text-anchor="middle" textLength="12.60" lengthAdjust="spacingAndGlyphs">1.5</text>
<line x1="479.70" y1="181.30" x2="479.70" y2="184.10" stroke="#1a1a1a" stroke-width="1.2"/>
<text x="479.70" y="195.80" font-size="9.8" fill="#231f20" text-anchor="middle" textLength="12.60" lengthAdjust="spacingAndGlyphs">2.0</text>
<text x="370.00" y="210.80" font-size="10.6" fill="#231f20" text-anchor="start" textLength="42.20" lengthAdjust="spacingAndGlyphs">FVIIIa (nM)</text>
<text x="0.00" y="0.00" font-size="10.6" fill="#231f20" text-anchor="middle" textLength="90.40" lengthAdjust="spacingAndGlyphs" transform="translate(270.9,103.6) rotate(-90)">FXa (mol/mol FIXa.min)</text>
<path d="M299.30,181.00 L479.70,181.00" fill="none" stroke="#7a7a7a" stroke-width="1.4" stroke-linejoin="round" stroke-linecap="round"/>
<path d="M299.30,181.00 L308.32,180.70 L326.36,180.70 L353.42,180.39 L389.50,180.39 L434.60,179.79 L479.70,180.09" fill="none" stroke="#d98bc0" stroke-width="1.6" stroke-linejoin="round" stroke-linecap="round"/>
<line x1="353.42" y1="158.35" x2="353.42" y2="168.01" stroke="#f5cf62" stroke-width="1.1"/>
<line x1="350.22" y1="158.35" x2="356.62" y2="158.35" stroke="#f5cf62" stroke-width="1.1"/>
<line x1="350.22" y1="168.01" x2="356.62" y2="168.01" stroke="#f5cf62" stroke-width="1.1"/>
<line x1="389.50" y1="152.49" x2="389.50" y2="159.74" stroke="#f5cf62" stroke-width="1.1"/>
<line x1="386.30" y1="152.49" x2="392.70" y2="152.49" stroke="#f5cf62" stroke-width="1.1"/>
<line x1="386.30" y1="159.74" x2="392.70" y2="159.74" stroke="#f5cf62" stroke-width="1.1"/>
<line x1="434.60" y1="134.79" x2="434.60" y2="149.29" stroke="#f5cf62" stroke-width="1.1"/>
<line x1="431.40" y1="134.79" x2="437.80" y2="134.79" stroke="#f5cf62" stroke-width="1.1"/>
<line x1="431.40" y1="149.29" x2="437.80" y2="149.29" stroke="#f5cf62" stroke-width="1.1"/>
<line x1="479.70" y1="137.81" x2="479.70" y2="151.10" stroke="#f5cf62" stroke-width="1.1"/>
<line x1="476.50" y1="137.81" x2="482.90" y2="137.81" stroke="#f5cf62" stroke-width="1.1"/>
<line x1="476.50" y1="151.10" x2="482.90" y2="151.10" stroke="#f5cf62" stroke-width="1.1"/>
<path d="M299.30,181.30 L301.10,180.54 L302.91,179.80 L304.71,179.07 L306.52,178.35 L308.32,177.64 L310.12,176.94 L311.93,176.26 L313.73,175.58 L315.54,174.92 L317.34,174.26 L319.14,173.62 L320.95,172.98 L322.75,172.36 L324.56,171.75 L326.36,171.14 L328.16,170.54 L329.97,169.95 L331.77,169.37 L333.58,168.80 L335.38,168.24 L337.18,167.69 L338.99,167.14 L340.79,166.60 L342.60,166.07 L344.40,165.54 L346.20,165.03 L348.01,164.52 L349.81,164.01 L351.62,163.52 L353.42,163.03 L355.22,162.54 L357.03,162.07 L358.83,161.60 L360.64,161.13 L362.44,160.68 L364.24,160.22 L366.05,159.78 L367.85,159.34 L369.66,158.90 L371.46,158.47 L373.26,158.05 L375.07,157.63 L376.87,157.21 L378.68,156.81 L380.48,156.40 L382.28,156.00 L384.09,155.61 L385.89,155.22 L387.70,154.84 L389.50,154.46 L391.30,154.08 L393.11,153.71 L394.91,153.34 L396.72,152.98 L398.52,152.62 L400.32,152.27 L402.13,151.92 L403.93,151.57 L405.74,151.23 L407.54,150.89 L409.34,150.55 L411.15,150.22 L412.95,149.90 L414.76,149.57 L416.56,149.25 L418.36,148.93 L420.17,148.62 L421.97,148.31 L423.78,148.00 L425.58,147.70 L427.38,147.40 L429.19,147.10 L430.99,146.81 L432.80,146.52 L434.60,146.23 L436.40,145.94 L438.21,145.66 L440.01,145.38 L441.82,145.11 L443.62,144.83 L445.42,144.56 L447.23,144.29 L449.03,144.03 L450.84,143.76 L452.64,143.50 L454.44,143.25 L456.25,142.99 L458.05,142.74 L459.86,142.49 L461.66,142.24 L463.46,141.99 L465.27,141.75 L467.07,141.51 L468.88,141.27 L470.68,141.03 L472.48,140.80 L474.29,140.57 L476.09,140.34 L477.90,140.11 L479.70,139.88" fill="none" stroke="#f5cf62" stroke-width="1.5" stroke-linejoin="round" stroke-linecap="round"/>
<line x1="353.42" y1="152.91" x2="353.42" y2="164.99" stroke="#c81818" stroke-width="1.1"/>
<line x1="350.22" y1="152.91" x2="356.62" y2="152.91" stroke="#c81818" stroke-width="1.1"/>
<line x1="350.22" y1="164.99" x2="356.62" y2="164.99" stroke="#c81818" stroke-width="1.1"/>
<line x1="479.70" y1="119.21" x2="479.70" y2="142.16" stroke="#c81818" stroke-width="1.1"/>
<line x1="476.50" y1="119.21" x2="482.90" y2="119.21" stroke="#c81818" stroke-width="1.1"/>
<line x1="476.50" y1="142.16" x2="482.90" y2="142.16" stroke="#c81818" stroke-width="1.1"/>
<path d="M299.30,181.30 L301.10,180.42 L302.91,179.56 L304.71,178.70 L306.52,177.86 L308.32,177.02 L310.12,176.20 L311.93,175.39 L313.73,174.58 L315.54,173.79 L317.34,173.00 L319.14,172.22 L320.95,171.45 L322.75,170.70 L324.56,169.94 L326.36,169.20 L328.16,168.47 L329.97,167.74 L331.77,167.03 L333.58,166.32 L335.38,165.62 L337.18,164.92 L338.99,164.24 L340.79,163.56 L342.60,162.89 L344.40,162.22 L346.20,161.57 L348.01,160.92 L349.81,160.27 L351.62,159.64 L353.42,159.01 L355.22,158.38 L357.03,157.77 L358.83,157.16 L360.64,156.55 L362.44,155.95 L364.24,155.36 L366.05,154.78 L367.85,154.20 L369.66,153.62 L371.46,153.05 L373.26,152.49 L375.07,151.93 L376.87,151.38 L378.68,150.83 L380.48,150.29 L382.28,149.76 L384.09,149.23 L385.89,148.70 L387.70,148.18 L389.50,147.66 L391.30,147.15 L393.11,146.65 L394.91,146.15 L396.72,145.65 L398.52,145.16 L400.32,144.67 L402.13,144.19 L403.93,143.71 L405.74,143.23 L407.54,142.76 L409.34,142.30 L411.15,141.84 L412.95,141.38 L414.76,140.93 L416.56,140.48 L418.36,140.03 L420.17,139.59 L421.97,139.15 L423.78,138.72 L425.58,138.29 L427.38,137.86 L429.19,137.44 L430.99,137.02 L432.80,136.60 L434.60,136.19 L436.40,135.78 L438.21,135.38 L440.01,134.98 L441.82,134.58 L443.62,134.18 L445.42,133.79 L447.23,133.40 L449.03,133.02 L450.84,132.63 L452.64,132.26 L454.44,131.88 L456.25,131.51 L458.05,131.14 L459.86,130.77 L461.66,130.41 L463.46,130.04 L465.27,129.69 L467.07,129.33 L468.88,128.98 L470.68,128.63 L472.48,128.28 L474.29,127.93 L476.09,127.59 L477.90,127.25 L479.70,126.92" fill="none" stroke="#c81818" stroke-width="1.5" stroke-linejoin="round" stroke-linecap="round"/>
<line x1="353.42" y1="147.48" x2="353.42" y2="164.39" stroke="#3b8a2e" stroke-width="1.1"/>
<line x1="350.22" y1="147.48" x2="356.62" y2="147.48" stroke="#3b8a2e" stroke-width="1.1"/>
<line x1="350.22" y1="164.39" x2="356.62" y2="164.39" stroke="#3b8a2e" stroke-width="1.1"/>
<line x1="389.50" y1="136.00" x2="389.50" y2="150.50" stroke="#3b8a2e" stroke-width="1.1"/>
<line x1="386.30" y1="136.00" x2="392.70" y2="136.00" stroke="#3b8a2e" stroke-width="1.1"/>
<line x1="386.30" y1="150.50" x2="392.70" y2="150.50" stroke="#3b8a2e" stroke-width="1.1"/>
<line x1="434.60" y1="117.88" x2="434.60" y2="144.46" stroke="#3b8a2e" stroke-width="1.1"/>
<line x1="431.40" y1="117.88" x2="437.80" y2="117.88" stroke="#3b8a2e" stroke-width="1.1"/>
<line x1="431.40" y1="144.46" x2="437.80" y2="144.46" stroke="#3b8a2e" stroke-width="1.1"/>
<line x1="479.70" y1="114.68" x2="479.70" y2="125.55" stroke="#3b8a2e" stroke-width="1.1"/>
<line x1="476.50" y1="114.68" x2="482.90" y2="114.68" stroke="#3b8a2e" stroke-width="1.1"/>
<line x1="476.50" y1="125.55" x2="482.90" y2="125.55" stroke="#3b8a2e" stroke-width="1.1"/>
<path d="M299.30,181.30 L301.10,180.42 L302.91,179.56 L304.71,178.70 L306.52,177.84 L308.32,176.99 L310.12,176.16 L311.93,175.32 L313.73,174.50 L315.54,173.68 L317.34,172.87 L319.14,172.06 L320.95,171.26 L322.75,170.47 L324.56,169.68 L326.36,168.90 L328.16,168.13 L329.97,167.36 L331.77,166.60 L333.58,165.85 L335.38,165.10 L337.18,164.35 L338.99,163.62 L340.79,162.89 L342.60,162.16 L344.40,161.44 L346.20,160.72 L348.01,160.02 L349.81,159.31 L351.62,158.61 L353.42,157.92 L355.22,157.23 L357.03,156.55 L358.83,155.87 L360.64,155.20 L362.44,154.53 L364.24,153.87 L366.05,153.21 L367.85,152.56 L369.66,151.91 L371.46,151.27 L373.26,150.63 L375.07,149.99 L376.87,149.36 L378.68,148.74 L380.48,148.12 L382.28,147.50 L384.09,146.89 L385.89,146.28 L387.70,145.68 L389.50,145.08 L391.30,144.49 L393.11,143.90 L394.91,143.31 L396.72,142.73 L398.52,142.15 L400.32,141.58 L402.13,141.01 L403.93,140.44 L405.74,139.88 L407.54,139.32 L409.34,138.76 L411.15,138.21 L412.95,137.67 L414.76,137.12 L416.56,136.58 L418.36,136.05 L420.17,135.51 L421.97,134.98 L423.78,134.46 L425.58,133.94 L427.38,133.42 L429.19,132.90 L430.99,132.39 L432.80,131.88 L434.60,131.37 L436.40,130.87 L438.21,130.37 L440.01,129.88 L441.82,129.38 L443.62,128.90 L445.42,128.41 L447.23,127.93 L449.03,127.45 L450.84,126.97 L452.64,126.49 L454.44,126.02 L456.25,125.55 L458.05,125.09 L459.86,124.63 L461.66,124.17 L463.46,123.71 L465.27,123.26 L467.07,122.81 L468.88,122.36 L470.68,121.91 L472.48,121.47 L474.29,121.03 L476.09,120.59 L477.90,120.16 L479.70,119.72" fill="none" stroke="#3b8a2e" stroke-width="1.5" stroke-linejoin="round" stroke-linecap="round"/>
<line x1="353.42" y1="152.31" x2="353.42" y2="163.18" stroke="#7a0f80" stroke-width="1.1"/>
<line x1="350.22" y1="152.31" x2="356.62" y2="152.31" stroke="#7a0f80" stroke-width="1.1"/>
<line x1="350.22" y1="163.18" x2="356.62" y2="163.18" stroke="#7a0f80" stroke-width="1.1"/>
<line x1="389.50" y1="137.33" x2="389.50" y2="150.62" stroke="#7a0f80" stroke-width="1.1"/>
<line x1="386.30" y1="137.33" x2="392.70" y2="137.33" stroke="#7a0f80" stroke-width="1.1"/>
<line x1="386.30" y1="150.62" x2="392.70" y2="150.62" stroke="#7a0f80" stroke-width="1.1"/>
<line x1="479.70" y1="109.42" x2="479.70" y2="120.30" stroke="#7a0f80" stroke-width="1.1"/>
<line x1="476.50" y1="109.42" x2="482.90" y2="109.42" stroke="#7a0f80" stroke-width="1.1"/>
<line x1="476.50" y1="120.30" x2="482.90" y2="120.30" stroke="#7a0f80" stroke-width="1.1"/>
<path d="M299.30,181.30 L301.10,180.44 L302.91,179.59 L304.71,178.75 L306.52,177.90 L308.32,177.07 L310.12,176.24 L311.93,175.41 L313.73,174.59 L315.54,173.77 L317.34,172.96 L319.14,172.15 L320.95,171.34 L322.75,170.54 L324.56,169.75 L326.36,168.96 L328.16,168.17 L329.97,167.39 L331.77,166.61 L333.58,165.84 L335.38,165.07 L337.18,164.31 L338.99,163.55 L340.79,162.79 L342.60,162.04 L344.40,161.29 L346.20,160.55 L348.01,159.81 L349.81,159.07 L351.62,158.34 L353.42,157.61 L355.22,156.89 L357.03,156.17 L358.83,155.45 L360.64,154.74 L362.44,154.03 L364.24,153.32 L366.05,152.62 L367.85,151.92 L369.66,151.23 L371.46,150.54 L373.26,149.85 L375.07,149.17 L376.87,148.49 L378.68,147.81 L380.48,147.14 L382.28,146.47 L384.09,145.81 L385.89,145.14 L387.70,144.48 L389.50,143.83 L391.30,143.18 L393.11,142.53 L394.91,141.88 L396.72,141.24 L398.52,140.60 L400.32,139.96 L402.13,139.33 L403.93,138.70 L405.74,138.08 L407.54,137.45 L409.34,136.83 L411.15,136.21 L412.95,135.60 L414.76,134.99 L416.56,134.38 L418.36,133.78 L420.17,133.17 L421.97,132.57 L423.78,131.98 L425.58,131.38 L427.38,130.79 L429.19,130.21 L430.99,129.62 L432.80,129.04 L434.60,128.46 L436.40,127.88 L438.21,127.31 L440.01,126.74 L441.82,126.17 L443.62,125.60 L445.42,125.04 L447.23,124.48 L449.03,123.92 L450.84,123.37 L452.64,122.81 L454.44,122.26 L456.25,121.72 L458.05,121.17 L459.86,120.63 L461.66,120.09 L463.46,119.55 L465.27,119.02 L467.07,118.49 L468.88,117.96 L470.68,117.43 L472.48,116.90 L474.29,116.38 L476.09,115.86 L477.90,115.34 L479.70,114.83" fill="none" stroke="#7a0f80" stroke-width="1.5" stroke-linejoin="round" stroke-linecap="round"/>
<line x1="326.36" y1="151.04" x2="326.36" y2="158.53" stroke="#4a7cc8" stroke-width="1.1"/>
<line x1="323.16" y1="151.04" x2="329.56" y2="151.04" stroke="#4a7cc8" stroke-width="1.1"/>
<line x1="323.16" y1="158.53" x2="329.56" y2="158.53" stroke="#4a7cc8" stroke-width="1.1"/>
<line x1="353.42" y1="118.54" x2="353.42" y2="150.68" stroke="#4a7cc8" stroke-width="1.1"/>
<line x1="350.22" y1="118.54" x2="356.62" y2="118.54" stroke="#4a7cc8" stroke-width="1.1"/>
<line x1="350.22" y1="150.68" x2="356.62" y2="150.68" stroke="#4a7cc8" stroke-width="1.1"/>
<line x1="479.70" y1="69.50" x2="479.70" y2="104.05" stroke="#4a7cc8" stroke-width="1.1"/>
<line x1="476.50" y1="69.50" x2="482.90" y2="69.50" stroke="#4a7cc8" stroke-width="1.1"/>
<line x1="476.50" y1="104.05" x2="482.90" y2="104.05" stroke="#4a7cc8" stroke-width="1.1"/>
<path d="M299.30,181.30 L301.10,179.11 L302.91,176.97 L304.71,174.89 L306.52,172.86 L308.32,170.88 L310.12,168.94 L311.93,167.06 L313.73,165.21 L315.54,163.41 L317.34,161.65 L319.14,159.93 L320.95,158.25 L322.75,156.61 L324.56,155.00 L326.36,153.43 L328.16,151.89 L329.97,150.39 L331.77,148.91 L333.58,147.47 L335.38,146.06 L337.18,144.67 L338.99,143.32 L340.79,141.99 L342.60,140.68 L344.40,139.40 L346.20,138.15 L348.01,136.92 L349.81,135.72 L351.62,134.54 L353.42,133.38 L355.22,132.24 L357.03,131.12 L358.83,130.02 L360.64,128.94 L362.44,127.88 L364.24,126.84 L366.05,125.82 L367.85,124.82 L369.66,123.83 L371.46,122.86 L373.26,121.91 L375.07,120.97 L376.87,120.05 L378.68,119.14 L380.48,118.25 L382.28,117.37 L384.09,116.51 L385.89,115.66 L387.70,114.83 L389.50,114.00 L391.30,113.19 L393.11,112.40 L394.91,111.61 L396.72,110.84 L398.52,110.08 L400.32,109.33 L402.13,108.59 L403.93,107.86 L405.74,107.15 L407.54,106.44 L409.34,105.74 L411.15,105.06 L412.95,104.38 L414.76,103.71 L416.56,103.06 L418.36,102.41 L420.17,101.77 L421.97,101.14 L423.78,100.52 L425.58,99.90 L427.38,99.30 L429.19,98.70 L430.99,98.11 L432.80,97.53 L434.60,96.96 L436.40,96.39 L438.21,95.83 L440.01,95.28 L441.82,94.74 L443.62,94.20 L445.42,93.67 L447.23,93.15 L449.03,92.63 L450.84,92.12 L452.64,91.61 L454.44,91.12 L456.25,90.62 L458.05,90.14 L459.86,89.66 L461.66,89.18 L463.46,88.71 L465.27,88.25 L467.07,87.79 L468.88,87.34 L470.68,86.89 L472.48,86.45 L474.29,86.01 L476.09,85.58 L477.90,85.15 L479.70,84.73" fill="none" stroke="#4a7cc8" stroke-width="1.5" stroke-linejoin="round" stroke-linecap="round"/>
<line x1="326.36" y1="122.77" x2="326.36" y2="131.83" stroke="#e08a10" stroke-width="1.1"/>
<line x1="323.16" y1="122.77" x2="329.56" y2="122.77" stroke="#e08a10" stroke-width="1.1"/>
<line x1="323.16" y1="131.83" x2="329.56" y2="131.83" stroke="#e08a10" stroke-width="1.1"/>
<line x1="479.70" y1="50.65" x2="479.70" y2="64.31" stroke="#e08a10" stroke-width="1.1"/>
<line x1="476.50" y1="50.65" x2="482.90" y2="50.65" stroke="#e08a10" stroke-width="1.1"/>
<line x1="476.50" y1="64.31" x2="482.90" y2="64.31" stroke="#e08a10" stroke-width="1.1"/>
<path d="M299.30,181.30 L301.10,174.97 L302.91,169.13 L304.71,163.72 L306.52,158.70 L308.32,154.04 L310.12,149.68 L311.93,145.61 L313.73,141.79 L315.54,138.21 L317.34,134.84 L319.14,131.66 L320.95,128.66 L322.75,125.82 L324.56,123.14 L326.36,120.59 L328.16,118.17 L329.97,115.87 L331.77,113.68 L333.58,111.59 L335.38,109.59 L337.18,107.69 L338.99,105.87 L340.79,104.12 L342.60,102.45 L344.40,100.85 L346.20,99.31 L348.01,97.83 L349.81,96.41 L351.62,95.05 L353.42,93.73 L355.22,92.46 L357.03,91.24 L358.83,90.06 L360.64,88.92 L362.44,87.82 L364.24,86.76 L366.05,85.73 L367.85,84.74 L369.66,83.78 L371.46,82.84 L373.26,81.94 L375.07,81.06 L376.87,80.21 L378.68,79.39 L380.48,78.58 L382.28,77.81 L384.09,77.05 L385.89,76.32 L387.70,75.60 L389.50,74.90 L391.30,74.23 L393.11,73.57 L394.91,72.93 L396.72,72.30 L398.52,71.69 L400.32,71.10 L402.13,70.52 L403.93,69.95 L405.74,69.40 L407.54,68.86 L409.34,68.33 L411.15,67.82 L412.95,67.32 L414.76,66.83 L416.56,66.35 L418.36,65.88 L420.17,65.42 L421.97,64.97 L423.78,64.54 L425.58,64.11 L427.38,63.69 L429.19,63.27 L430.99,62.87 L432.80,62.48 L434.60,62.09 L436.40,61.71 L438.21,61.34 L440.01,60.97 L441.82,60.62 L443.62,60.27 L445.42,59.92 L447.23,59.59 L449.03,59.26 L450.84,58.93 L452.64,58.61 L454.44,58.30 L456.25,57.99 L458.05,57.69 L459.86,57.39 L461.66,57.10 L463.46,56.82 L465.27,56.54 L467.07,56.26 L468.88,55.99 L470.68,55.72 L472.48,55.46 L474.29,55.20 L476.09,54.95 L477.90,54.70 L479.70,54.45" fill="none" stroke="#e08a10" stroke-width="1.5" stroke-linejoin="round" stroke-linecap="round"/>
<circle cx="308.32" cy="178.88" r="2.9" fill="#f5cf62"/>
<circle cx="326.36" cy="172.24" r="2.9" fill="#f5cf62"/>
<circle cx="353.42" cy="163.18" r="2.9" fill="#f5cf62"/>
<circle cx="389.50" cy="156.11" r="2.9" fill="#f5cf62"/>
<circle cx="434.60" cy="142.04" r="2.9" fill="#f5cf62"/>
<circle cx="479.70" cy="144.46" r="2.9" fill="#f5cf62"/>
<circle cx="308.32" cy="178.28" r="2.9" fill="#c81818"/>
<circle cx="326.36" cy="174.05" r="2.9" fill="#c81818"/>
<circle cx="353.42" cy="158.95" r="2.9" fill="#c81818"/>
<circle cx="389.50" cy="146.27" r="2.9" fill="#c81818"/>
<circle cx="434.60" cy="133.83" r="2.9" fill="#c81818"/>
<circle cx="479.70" cy="130.68" r="2.9" fill="#c81818"/>
<circle cx="308.32" cy="177.07" r="2.9" fill="#3b8a2e"/>
<circle cx="326.36" cy="167.41" r="2.9" fill="#3b8a2e"/>
<circle cx="353.42" cy="155.93" r="2.9" fill="#3b8a2e"/>
<circle cx="389.50" cy="143.25" r="2.9" fill="#3b8a2e"/>
<circle cx="434.60" cy="131.17" r="2.9" fill="#3b8a2e"/>
<circle cx="479.70" cy="120.11" r="2.9" fill="#3b8a2e"/>
<circle cx="308.32" cy="177.49" r="2.9" fill="#7a0f80"/>
<circle cx="326.36" cy="168.31" r="2.9" fill="#7a0f80"/>
<circle cx="353.42" cy="157.74" r="2.9" fill="#7a0f80"/>
<circle cx="389.50" cy="143.97" r="2.9" fill="#7a0f80"/>
<circle cx="434.60" cy="129.60" r="2.9" fill="#7a0f80"/>
<circle cx="479.70" cy="114.86" r="2.9" fill="#7a0f80"/>
<circle cx="308.32" cy="172.72" r="2.9" fill="#4a7cc8"/>
<circle cx="326.36" cy="154.78" r="2.9" fill="#4a7cc8"/>
<circle cx="353.42" cy="134.61" r="2.9" fill="#4a7cc8"/>
<circle cx="389.50" cy="108.82" r="2.9" fill="#4a7cc8"/>
<circle cx="434.60" cy="95.89" r="2.9" fill="#4a7cc8"/>
<circle cx="479.70" cy="86.77" r="2.9" fill="#4a7cc8"/>
<circle cx="308.32" cy="156.72" r="2.9" fill="#e08a10"/>
<circle cx="326.36" cy="127.30" r="2.9" fill="#e08a10"/>
<circle cx="353.42" cy="93.30" r="2.9" fill="#e08a10"/>
<circle cx="389.50" cy="68.71" r="2.9" fill="#e08a10"/>
<circle cx="434.60" cy="63.88" r="2.9" fill="#e08a10"/>
<circle cx="479.70" cy="57.48" r="2.9" fill="#e08a10"/>
<circle cx="308.32" cy="180.70" r="2.9" fill="#d98bc0"/>
<circle cx="326.36" cy="180.70" r="2.9" fill="#d98bc0"/>
<circle cx="353.42" cy="180.39" r="2.9" fill="#d98bc0"/>
<circle cx="389.50" cy="180.39" r="2.9" fill="#d98bc0"/>
<circle cx="434.60" cy="179.79" r="2.9" fill="#d98bc0"/>
<circle cx="479.70" cy="180.09" r="2.9" fill="#d98bc0"/>
<text x="8.40" y="242.50" font-size="13.6" fill="#000" text-anchor="start" textLength="9.40" lengthAdjust="spacingAndGlyphs" font-weight="bold">C</text>
<line x1="46.30" y1="251.20" x2="46.30" y2="425.80" stroke="#1a1a1a" stroke-width="1.45"/>
<line x1="45.70" y1="425.20" x2="238.30" y2="425.20" stroke="#1a1a1a" stroke-width="1.45"/>
<line x1="43.30" y1="425.20" x2="46.30" y2="425.20" stroke="#1a1a1a" stroke-width="1.2"/>
<text x="39.50" y="428.10" font-size="9.8" fill="#231f20" text-anchor="end" textLength="12.60" lengthAdjust="spacingAndGlyphs">0.0</text>
<line x1="43.30" y1="382.45" x2="46.30" y2="382.45" stroke="#1a1a1a" stroke-width="1.2"/>
<text x="39.50" y="385.35" font-size="9.8" fill="#231f20" text-anchor="end" textLength="12.60" lengthAdjust="spacingAndGlyphs">0.2</text>
<line x1="43.30" y1="339.70" x2="46.30" y2="339.70" stroke="#1a1a1a" stroke-width="1.2"/>
<text x="39.50" y="342.60" font-size="9.8" fill="#231f20" text-anchor="end" textLength="12.60" lengthAdjust="spacingAndGlyphs">0.4</text>
<line x1="43.30" y1="296.95" x2="46.30" y2="296.95" stroke="#1a1a1a" stroke-width="1.2"/>
<text x="39.50" y="299.85" font-size="9.8" fill="#231f20" text-anchor="end" textLength="12.60" lengthAdjust="spacingAndGlyphs">0.6</text>
<line x1="43.30" y1="254.20" x2="46.30" y2="254.20" stroke="#1a1a1a" stroke-width="1.2"/>
<text x="39.50" y="257.10" font-size="9.8" fill="#231f20" text-anchor="end" textLength="12.60" lengthAdjust="spacingAndGlyphs">0.8</text>
<line x1="46.30" y1="425.20" x2="46.30" y2="428.00" stroke="#1a1a1a" stroke-width="1.2"/>
<text x="46.30" y="440.00" font-size="9.8" fill="#231f20" text-anchor="middle" textLength="5.05" lengthAdjust="spacingAndGlyphs">0</text>
<line x1="122.90" y1="425.20" x2="122.90" y2="428.00" stroke="#1a1a1a" stroke-width="1.2"/>
<text x="122.90" y="440.00" font-size="9.8" fill="#231f20" text-anchor="middle" textLength="10.10" lengthAdjust="spacingAndGlyphs">20</text>
<line x1="199.50" y1="425.20" x2="199.50" y2="428.00" stroke="#1a1a1a" stroke-width="1.2"/>
<text x="199.50" y="440.00" font-size="9.8" fill="#231f20" text-anchor="middle" textLength="10.10" lengthAdjust="spacingAndGlyphs">40</text>
<text x="128.60" y="454.70" font-size="10.6" fill="#231f20" text-anchor="start" textLength="29.40" lengthAdjust="spacingAndGlyphs">FX (nM)</text>
<text x="0.00" y="0.00" font-size="10.6" fill="#231f20" text-anchor="middle" textLength="89.60" lengthAdjust="spacingAndGlyphs" transform="translate(20.3,337.6) rotate(-90)">FXa (mol/mol FIXa.min)</text>
<line x1="52.04" y1="344.83" x2="52.04" y2="395.70" stroke="#a8a8a8" stroke-width="1.0"/>
<line x1="49.04" y1="344.83" x2="55.04" y2="344.83" stroke="#a8a8a8" stroke-width="1.0"/>
<line x1="49.04" y1="395.70" x2="55.04" y2="395.70" stroke="#a8a8a8" stroke-width="1.0"/>
<line x1="84.60" y1="402.76" x2="84.60" y2="425.20" stroke="#8a8a8a" stroke-width="1.0"/>
<line x1="81.60" y1="402.76" x2="87.60" y2="402.76" stroke="#8a8a8a" stroke-width="1.0"/>
<line x1="81.60" y1="425.20" x2="87.60" y2="425.20" stroke="#8a8a8a" stroke-width="1.0"/>
<path d="M46.30,425.20 L52.04,370.27 L57.79,370.27 L65.45,370.27 L84.60,416.01 L122.90,425.20 L237.80,425.20" fill="none" stroke="#7c7c7c" stroke-width="1.4" stroke-linejoin="round" stroke-linecap="round"/>
<circle cx="52.04" cy="370.27" r="2.5" fill="#7c7c7c"/>
<circle cx="65.45" cy="370.27" r="2.5" fill="#7c7c7c"/>
<circle cx="84.60" cy="416.01" r="2.5" fill="#7c7c7c"/>
<circle cx="122.90" cy="425.20" r="2.5" fill="#7c7c7c"/>
<circle cx="237.80" cy="425.20" r="2.5" fill="#7c7c7c"/>
<line x1="52.04" y1="308.06" x2="52.04" y2="359.79" stroke="#e3a6cf" stroke-width="1.0"/>
<line x1="49.04" y1="308.06" x2="55.04" y2="308.06" stroke="#e3a6cf" stroke-width="1.0"/>
<line x1="49.04" y1="359.79" x2="55.04" y2="359.79" stroke="#e3a6cf" stroke-width="1.0"/>
<line x1="57.79" y1="312.55" x2="57.79" y2="337.78" stroke="#e09ccb" stroke-width="1.0"/>
<line x1="54.79" y1="312.55" x2="60.79" y2="312.55" stroke="#e09ccb" stroke-width="1.0"/>
<line x1="54.79" y1="337.78" x2="60.79" y2="337.78" stroke="#e09ccb" stroke-width="1.0"/>
<line x1="237.80" y1="366.85" x2="237.80" y2="392.07" stroke="#dc92c5" stroke-width="1.0"/>
<line x1="234.80" y1="366.85" x2="240.80" y2="366.85" stroke="#dc92c5" stroke-width="1.0"/>
<line x1="234.80" y1="392.07" x2="240.80" y2="392.07" stroke="#dc92c5" stroke-width="1.0"/>
<path d="M46.30,425.20 L52.04,333.93 L57.79,325.16 L65.45,315.97 L84.60,333.71 L122.90,370.69 L237.80,379.46" fill="none" stroke="#d47ab8" stroke-width="1.4" stroke-linejoin="round" stroke-linecap="round"/>
<circle cx="52.04" cy="333.93" r="2.6" fill="#d47ab8"/>
<circle cx="57.79" cy="325.16" r="2.6" fill="#d47ab8"/>
<circle cx="65.45" cy="315.97" r="2.6" fill="#d47ab8"/>
<circle cx="84.60" cy="333.71" r="2.6" fill="#d47ab8"/>
<circle cx="122.90" cy="370.69" r="2.6" fill="#d47ab8"/>
<circle cx="237.80" cy="379.46" r="2.6" fill="#d47ab8"/>
<line x1="130.60" y1="250.70" x2="130.60" y2="334.50" stroke="#1a1a1a" stroke-width="1.45"/>
<line x1="130.00" y1="333.90" x2="228.60" y2="333.90" stroke="#1a1a1a" stroke-width="1.45"/>
<line x1="127.60" y1="333.90" x2="130.60" y2="333.90" stroke="#1a1a1a" stroke-width="1.2"/>
<text x="125.40" y="336.80" font-size="9.8" fill="#231f20" text-anchor="end" textLength="5.30" lengthAdjust="spacingAndGlyphs">0</text>
<line x1="127.60" y1="313.85" x2="130.60" y2="313.85" stroke="#1a1a1a" stroke-width="1.2"/>
<text x="125.40" y="316.75" font-size="9.8" fill="#231f20" text-anchor="end" textLength="5.30" lengthAdjust="spacingAndGlyphs">5</text>
<line x1="127.60" y1="293.80" x2="130.60" y2="293.80" stroke="#1a1a1a" stroke-width="1.2"/>
<text x="125.40" y="296.70" font-size="9.8" fill="#231f20" text-anchor="end" textLength="10.60" lengthAdjust="spacingAndGlyphs">10</text>
<line x1="127.60" y1="273.75" x2="130.60" y2="273.75" stroke="#1a1a1a" stroke-width="1.2"/>
<text x="125.40" y="276.65" font-size="9.8" fill="#231f20" text-anchor="end" textLength="10.60" lengthAdjust="spacingAndGlyphs">15</text>
<line x1="127.60" y1="253.70" x2="130.60" y2="253.70" stroke="#1a1a1a" stroke-width="1.2"/>
<text x="125.40" y="256.60" font-size="9.8" fill="#231f20" text-anchor="end" textLength="10.60" lengthAdjust="spacingAndGlyphs">20</text>
<line x1="130.60" y1="333.90" x2="130.60" y2="336.70" stroke="#1a1a1a" stroke-width="1.2"/>
<text x="130.60" y="348.80" font-size="9.8" fill="#231f20" text-anchor="middle" textLength="5.30" lengthAdjust="spacingAndGlyphs">0</text>
<line x1="169.80" y1="333.90" x2="169.80" y2="336.70" stroke="#1a1a1a" stroke-width="1.2"/>
<text x="169.80" y="348.80" font-size="9.8" fill="#231f20" text-anchor="middle" textLength="10.60" lengthAdjust="spacingAndGlyphs">20</text>
<line x1="209.00" y1="333.90" x2="209.00" y2="336.70" stroke="#1a1a1a" stroke-width="1.2"/>
<text x="209.00" y="348.80" font-size="9.8" fill="#231f20" text-anchor="middle" textLength="10.60" lengthAdjust="spacingAndGlyphs">40</text>
<path d="M130.60,333.70 L228.60,333.70" fill="none" stroke="#555" stroke-width="1.3" stroke-linejoin="round" stroke-linecap="round"/>
<path d="M130.60,333.90 L133.54,332.50 L136.48,332.30 L140.40,332.10 L150.20,332.50 L169.80,333.10 L228.60,333.10" fill="none" stroke="#d47ab8" stroke-width="1.4" stroke-linejoin="round" stroke-linecap="round"/>
<circle cx="133.54" cy="332.50" r="1.5" fill="#d47ab8"/>
<circle cx="136.48" cy="332.30" r="1.5" fill="#d47ab8"/>
<circle cx="140.40" cy="332.10" r="1.5" fill="#d47ab8"/>
<circle cx="150.20" cy="332.50" r="1.5" fill="#d47ab8"/>
<circle cx="169.80" cy="333.10" r="1.5" fill="#d47ab8"/>
<circle cx="228.60" cy="333.10" r="1.5" fill="#d47ab8"/>
<path d="M130.60,333.90 L131.09,332.18 L131.58,330.53 L132.07,328.96 L132.56,327.46 L133.05,326.01 L133.54,324.63 L134.03,323.30 L134.52,322.03 L135.01,320.80 L135.50,319.62 L135.99,318.49 L136.48,317.39 L136.97,316.34 L137.46,315.32 L137.95,314.34 L138.44,313.39 L138.93,312.47 L139.42,311.58 L139.91,310.72 L140.40,309.89 L140.89,309.09 L141.38,308.31 L141.87,307.55 L142.36,306.81 L142.85,306.10 L143.34,305.41 L143.83,304.74 L144.32,304.09 L144.81,303.45 L145.30,302.83 L145.79,302.23 L146.28,301.65 L146.77,301.08 L147.26,300.53 L147.75,299.99 L148.24,299.46 L148.73,298.95 L149.22,298.45 L149.71,297.96 L150.20,297.48 L150.69,297.02 L151.18,296.56 L151.67,296.12 L152.16,295.68 L152.65,295.26 L153.14,294.85 L153.63,294.44 L154.12,294.05 L154.61,293.66 L155.10,293.28 L155.59,292.91 L156.08,292.55 L156.57,292.19 L157.06,291.84 L157.55,291.50 L158.04,291.17 L158.53,290.84 L159.02,290.52 L159.51,290.21 L160.00,289.90 L160.49,289.60 L160.98,289.30 L161.47,289.01 L161.96,288.72 L162.45,288.44 L162.94,288.17 L163.43,287.90 L163.92,287.63 L164.41,287.37 L164.90,287.12 L165.39,286.87 L165.88,286.62 L166.37,286.38 L166.86,286.14 L167.35,285.90 L167.84,285.67 L168.33,285.45 L168.82,285.22 L169.31,285.00 L169.80,284.79 L170.29,284.58 L170.78,284.37 L171.27,284.16 L171.76,283.96 L172.25,283.76 L172.74,283.56 L173.23,283.37 L173.72,283.18 L174.21,282.99 L174.70,282.81 L175.19,282.63 L175.68,282.45 L176.17,282.27 L176.66,282.10 L177.15,281.93 L177.64,281.76 L178.13,281.59 L178.62,281.43 L179.11,281.27 L179.60,281.11 L180.09,280.95 L180.58,280.80 L181.07,280.64 L181.56,280.49 L182.05,280.34 L182.54,280.20 L183.03,280.05 L183.52,279.91 L184.01,279.77 L184.50,279.63 L184.99,279.49 L185.48,279.36 L185.97,279.22 L186.46,279.09 L186.95,278.96 L187.44,278.83 L187.93,278.70 L188.42,278.58 L188.91,278.45 L189.40,278.33 L189.89,278.21 L190.38,278.09 L190.87,277.97 L191.36,277.86 L191.85,277.74 L192.34,277.63 L192.83,277.51 L193.32,277.40 L193.81,277.29 L194.30,277.18 L194.79,277.08 L195.28,276.97 L195.77,276.87 L196.26,276.76 L196.75,276.66 L197.24,276.56 L197.73,276.46 L198.22,276.36 L198.71,276.26 L199.20,276.16 L199.69,276.07 L200.18,275.97 L200.67,275.88 L201.16,275.79 L201.65,275.69 L202.14,275.60 L202.63,275.51 L203.12,275.42 L203.61,275.33 L204.10,275.25 L204.59,275.16 L205.08,275.08 L205.57,274.99 L206.06,274.91 L206.55,274.82 L207.04,274.74 L207.53,274.66 L208.02,274.58 L208.51,274.50 L209.00,274.42 L209.49,274.34 L209.98,274.27 L210.47,274.19 L210.96,274.11 L211.45,274.04 L211.94,273.97 L212.43,273.89 L212.92,273.82 L213.41,273.75 L213.90,273.67 L214.39,273.60 L214.88,273.53 L215.37,273.46 L215.86,273.39 L216.35,273.33 L216.84,273.26 L217.33,273.19 L217.82,273.13 L218.31,273.06 L218.80,272.99 L219.29,272.93 L219.78,272.87 L220.27,272.80 L220.76,272.74 L221.25,272.68 L221.74,272.61 L222.23,272.55 L222.72,272.49 L223.21,272.43 L223.70,272.37 L224.19,272.31 L224.68,272.25 L225.17,272.20 L225.66,272.14 L226.15,272.08 L226.64,272.02 L227.13,271.97 L227.62,271.91 L228.11,271.86 L228.60,271.80" fill="none" stroke="#3f72c4" stroke-width="1.5" stroke-linejoin="round" stroke-linecap="round"/>
<line x1="133.54" y1="323.43" x2="133.54" y2="325.83" stroke="#3f72c4" stroke-width="0.9"/>
<line x1="131.74" y1="323.43" x2="135.34" y2="323.43" stroke="#3f72c4" stroke-width="0.9"/>
<line x1="131.74" y1="325.83" x2="135.34" y2="325.83" stroke="#3f72c4" stroke-width="0.9"/>
<circle cx="133.54" cy="324.63" r="1.5" fill="#3f72c4"/>
<line x1="136.48" y1="315.79" x2="136.48" y2="319.00" stroke="#3f72c4" stroke-width="0.9"/>
<line x1="134.68" y1="315.79" x2="138.28" y2="315.79" stroke="#3f72c4" stroke-width="0.9"/>
<line x1="134.68" y1="319.00" x2="138.28" y2="319.00" stroke="#3f72c4" stroke-width="0.9"/>
<circle cx="136.48" cy="317.39" r="1.5" fill="#3f72c4"/>
<line x1="140.40" y1="308.69" x2="140.40" y2="311.09" stroke="#3f72c4" stroke-width="0.9"/>
<line x1="138.60" y1="308.69" x2="142.20" y2="308.69" stroke="#3f72c4" stroke-width="0.9"/>
<line x1="138.60" y1="311.09" x2="142.20" y2="311.09" stroke="#3f72c4" stroke-width="0.9"/>
<circle cx="140.40" cy="309.89" r="1.5" fill="#3f72c4"/>
<line x1="150.20" y1="292.67" x2="150.20" y2="302.29" stroke="#3f72c4" stroke-width="0.9"/>
<line x1="148.40" y1="292.67" x2="152.00" y2="292.67" stroke="#3f72c4" stroke-width="0.9"/>
<line x1="148.40" y1="302.29" x2="152.00" y2="302.29" stroke="#3f72c4" stroke-width="0.9"/>
<circle cx="150.20" cy="297.48" r="1.5" fill="#3f72c4"/>
<line x1="169.80" y1="281.30" x2="169.80" y2="288.28" stroke="#3f72c4" stroke-width="0.9"/>
<line x1="168.00" y1="281.30" x2="171.60" y2="281.30" stroke="#3f72c4" stroke-width="0.9"/>
<line x1="168.00" y1="288.28" x2="171.60" y2="288.28" stroke="#3f72c4" stroke-width="0.9"/>
<circle cx="169.80" cy="284.79" r="1.5" fill="#3f72c4"/>
<line x1="228.60" y1="268.79" x2="228.60" y2="274.81" stroke="#3f72c4" stroke-width="0.9"/>
<line x1="226.80" y1="268.79" x2="230.40" y2="268.79" stroke="#3f72c4" stroke-width="0.9"/>
<line x1="226.80" y1="274.81" x2="230.40" y2="274.81" stroke="#3f72c4" stroke-width="0.9"/>
<circle cx="228.60" cy="271.80" r="1.5" fill="#3f72c4"/>
<defs>
<linearGradient id="gs1" x1="0" y1="0" x2="1" y2="0"><stop offset="0" stop-color="#bdbdbd"/><stop offset="1" stop-color="#e8e8e8"/></linearGradient>
<linearGradient id="gs2" x1="0" y1="0" x2="0" y2="1"><stop offset="0" stop-color="#f4f4f4"/><stop offset="1" stop-color="#a8a8a8"/></linearGradient>
<linearGradient id="gh" x1="0" y1="0" x2="1" y2="0"><stop offset="0" stop-color="#f6f6f6"/><stop offset="0.7" stop-color="#e8e8e8"/><stop offset="1" stop-color="#9c9c9c"/></linearGradient>
<linearGradient id="gh2" x1="0" y1="0" x2="0" y2="1"><stop offset="0" stop-color="#fafafa"/><stop offset="0.65" stop-color="#e6e6e6"/><stop offset="1" stop-color="#9a9a9a"/></linearGradient>
<linearGradient id="gd" x1="0" y1="0" x2="1" y2="0"><stop offset="0" stop-color="#6e6e6e"/><stop offset="1" stop-color="#a0a0a0"/></linearGradient>
</defs>
<path d="M338.0,304.0 C339.3,297.2 351.0,301.7 360.0,301.0 C369.0,300.3 382.3,299.5 392.0,300.0 C401.7,300.5 410.0,302.0 418.0,304.0 C426.0,306.0 435.0,308.0 440.0,312.0 C445.0,316.0 448.0,321.7 448.0,328.0 C448.0,334.3 443.7,344.3 440.0,350.0 C436.3,355.7 432.0,358.3 426.0,362.0 C420.0,365.7 409.0,367.7 404.0,372.0 C399.0,376.3 398.7,382.7 396.0,388.0 C393.3,393.3 392.0,399.3 388.0,404.0 C384.0,408.7 377.3,414.3 372.0,416.0 C366.7,417.7 361.0,416.3 356.0,414.0 C351.0,411.7 346.3,406.3 342.0,402.0 C337.7,397.7 332.7,392.3 330.0,388.0 C327.3,383.7 323.3,380.3 326.0,376.0 C328.7,371.7 341.7,367.7 346.0,362.0 C350.3,356.3 353.3,351.7 352.0,342.0 C350.7,332.3 336.7,310.8 338.0,304.0 Z" fill="#f4f4f4" stroke="#f4f4f4" stroke-width="0.1" stroke-linejoin="round"/>
<path d="M304.0,298.0 C307.3,296.0 314.7,298.3 320.0,300.0 C325.3,301.7 332.7,304.7 336.0,308.0 C339.3,311.3 340.3,315.7 340.0,320.0 C339.7,324.3 337.7,331.3 334.0,334.0 C330.3,336.7 322.7,337.0 318.0,336.0 C313.3,335.0 309.0,332.0 306.0,328.0 C303.0,324.0 300.3,317.0 300.0,312.0 C299.7,307.0 300.7,300.0 304.0,298.0 Z" fill="#f4f4f4" stroke="#f4f4f4" stroke-width="0.1" stroke-linejoin="round"/>
<path d="M368.0,270.0 C369.2,269.9 373.4,269.8 375.4,269.5 C377.4,269.2 378.5,268.8 380.0,268.0 C381.5,267.2 383.6,266.4 384.6,264.9 C385.6,263.4 385.2,260.6 386.2,258.8 C387.2,257.0 388.8,255.4 390.8,254.2 C392.9,253.0 396.2,252.1 398.5,251.8 C400.8,251.5 402.3,252.6 404.6,252.6 C406.9,252.6 409.7,252.2 412.3,251.8 C414.9,251.4 417.6,249.8 420.0,250.0 C422.4,250.2 425.4,251.3 426.9,253.1 C428.4,254.9 429.2,258.5 429.2,260.8 C429.2,263.1 428.6,264.8 426.9,266.9 C425.2,268.9 421.5,271.6 419.2,273.1 C416.9,274.7 415.3,275.2 413.1,276.2 C410.9,277.2 407.2,278.5 406.0,279.0" fill="none" stroke="#8a8a8a" stroke-width="2.80" stroke-linejoin="round" stroke-linecap="round"/>
<path d="M368.0,270.0 C369.2,269.9 373.4,269.8 375.4,269.5 C377.4,269.2 378.5,268.8 380.0,268.0 C381.5,267.2 383.6,266.4 384.6,264.9 C385.6,263.4 385.2,260.6 386.2,258.8 C387.2,257.0 388.8,255.4 390.8,254.2 C392.9,253.0 396.2,252.1 398.5,251.8 C400.8,251.5 402.3,252.6 404.6,252.6 C406.9,252.6 409.7,252.2 412.3,251.8 C414.9,251.4 417.6,249.8 420.0,250.0 C422.4,250.2 425.4,251.3 426.9,253.1 C428.4,254.9 429.2,258.5 429.2,260.8 C429.2,263.1 428.6,264.8 426.9,266.9 C425.2,268.9 421.5,271.6 419.2,273.1 C416.9,274.7 415.3,275.2 413.1,276.2 C410.9,277.2 407.2,278.5 406.0,279.0" fill="none" stroke="#f6f6f6" stroke-width="1.60" stroke-linejoin="round" stroke-linecap="round"/>
<path d="M372.0,284.0 C373.6,283.4 378.9,281.8 381.6,280.6 C384.3,279.4 385.7,278.2 388.0,277.0 C390.3,275.8 393.1,274.4 395.6,273.6 C398.1,272.8 400.6,271.9 403.0,272.0 C405.4,272.1 408.8,273.7 410.0,274.0" fill="none" stroke="#a6a6a6" stroke-width="2.70" stroke-linejoin="round" stroke-linecap="round"/>
<path d="M372.0,284.0 C373.6,283.4 378.9,281.8 381.6,280.6 C384.3,279.4 385.7,278.2 388.0,277.0 C390.3,275.8 393.1,274.4 395.6,273.6 C398.1,272.8 400.6,271.9 403.0,272.0 C405.4,272.1 408.8,273.7 410.0,274.0" fill="none" stroke="#f6f6f6" stroke-width="1.50" stroke-linejoin="round" stroke-linecap="round"/>
<path d="M374.0,276.0 C374.7,275.3 376.7,273.0 378.0,272.0 C379.3,271.0 380.8,270.0 382.0,270.0 C383.2,270.0 384.2,272.7 385.0,272.0 C385.8,271.3 386.0,268.3 387.0,266.0 C388.0,263.7 390.3,259.3 391.0,258.0" fill="none" stroke="#a6a6a6" stroke-width="2.60" stroke-linejoin="round" stroke-linecap="round"/>
<path d="M374.0,276.0 C374.7,275.3 376.7,273.0 378.0,272.0 C379.3,271.0 380.8,270.0 382.0,270.0 C383.2,270.0 384.2,272.7 385.0,272.0 C385.8,271.3 386.0,268.3 387.0,266.0 C388.0,263.7 390.3,259.3 391.0,258.0" fill="none" stroke="#f6f6f6" stroke-width="1.40" stroke-linejoin="round" stroke-linecap="round"/>
<path d="M323.8,261.0 C324.6,260.4 326.4,258.7 328.5,257.2 C330.6,255.7 334.1,252.8 336.2,251.8 C338.2,250.8 339.5,250.3 340.8,251.0 C342.1,251.7 342.8,253.6 343.8,255.7 C344.8,257.8 346.4,262.1 346.9,263.4" fill="none" stroke="#888" stroke-width="3.00" stroke-linejoin="round" stroke-linecap="round"/>
<path d="M323.8,261.0 C324.6,260.4 326.4,258.7 328.5,257.2 C330.6,255.7 334.1,252.8 336.2,251.8 C338.2,250.8 339.5,250.3 340.8,251.0 C342.1,251.7 342.8,253.6 343.8,255.7 C344.8,257.8 346.4,262.1 346.9,263.4" fill="none" stroke="#f6f6f6" stroke-width="1.80" stroke-linejoin="round" stroke-linecap="round"/>
<path d="M339.2,251.0 C339.1,249.8 338.6,246.2 338.5,244.0 C338.4,241.8 338.4,239.6 338.8,238.0 C339.2,236.4 340.0,235.1 341.0,234.2 C342.0,233.3 343.1,232.7 345.0,232.4 C346.9,232.1 350.1,231.6 352.3,232.4 C354.6,233.2 357.2,235.4 358.5,237.2 C359.8,239.0 360.1,241.6 360.0,243.4 C359.9,245.2 358.2,246.2 357.7,248.0 C357.2,249.8 356.8,252.1 356.9,254.2 C357.0,256.2 357.5,258.5 358.5,260.3 C359.5,262.1 361.6,264.2 363.1,264.9 C364.6,265.5 366.7,264.0 367.7,264.2 C368.7,264.4 368.8,265.7 369.0,266.0" fill="none" stroke="#6a6a6a" stroke-width="3.10" stroke-linejoin="round" stroke-linecap="round"/>
<path d="M339.2,251.0 C339.1,249.8 338.6,246.2 338.5,244.0 C338.4,241.8 338.4,239.6 338.8,238.0 C339.2,236.4 340.0,235.1 341.0,234.2 C342.0,233.3 343.1,232.7 345.0,232.4 C346.9,232.1 350.1,231.6 352.3,232.4 C354.6,233.2 357.2,235.4 358.5,237.2 C359.8,239.0 360.1,241.6 360.0,243.4 C359.9,245.2 358.2,246.2 357.7,248.0 C357.2,249.8 356.8,252.1 356.9,254.2 C357.0,256.2 357.5,258.5 358.5,260.3 C359.5,262.1 361.6,264.2 363.1,264.9 C364.6,265.5 366.7,264.0 367.7,264.2 C368.7,264.4 368.8,265.7 369.0,266.0" fill="none" stroke="#f6f6f6" stroke-width="1.90" stroke-linejoin="round" stroke-linecap="round"/>
<path d="M322.3,262.0 C321.7,261.0 319.6,258.0 318.5,256.0 C317.4,254.0 316.2,251.8 315.5,250.0 C314.8,248.2 314.3,246.6 314.5,245.5 C314.7,244.4 315.6,243.6 316.5,243.3 C317.4,243.0 318.9,243.1 320.0,243.6 C321.1,244.1 322.4,245.1 323.0,246.5 C323.6,247.9 323.7,249.9 323.8,252.0 C323.9,254.1 324.0,257.1 323.8,258.8 C323.6,260.5 322.7,261.5 322.5,262.0" fill="none" stroke="#555" stroke-width="2.80" stroke-linejoin="round" stroke-linecap="round"/>
<path d="M322.3,262.0 C321.7,261.0 319.6,258.0 318.5,256.0 C317.4,254.0 316.2,251.8 315.5,250.0 C314.8,248.2 314.3,246.6 314.5,245.5 C314.7,244.4 315.6,243.6 316.5,243.3 C317.4,243.0 318.9,243.1 320.0,243.6 C321.1,244.1 322.4,245.1 323.0,246.5 C323.6,247.9 323.7,249.9 323.8,252.0 C323.9,254.1 324.0,257.1 323.8,258.8 C323.6,260.5 322.7,261.5 322.5,262.0" fill="none" stroke="#f6f6f6" stroke-width="1.60" stroke-linejoin="round" stroke-linecap="round"/>
<path d="M340.8,255.0 C340.9,256.2 341.0,259.8 341.5,262.0 C342.0,264.2 343.6,267.0 344.0,268.0" fill="none" stroke="#999" stroke-width="2.60" stroke-linejoin="round" stroke-linecap="round"/>
<path d="M340.8,255.0 C340.9,256.2 341.0,259.8 341.5,262.0 C342.0,264.2 343.6,267.0 344.0,268.0" fill="none" stroke="#f6f6f6" stroke-width="1.40" stroke-linejoin="round" stroke-linecap="round"/>
<path d="M358.3,256.0 C358.5,257.8 358.7,264.7 359.5,266.7 C360.3,268.7 361.8,268.2 363.0,267.8 C364.2,267.4 365.9,264.9 366.5,264.3" fill="none" stroke="#999" stroke-width="2.60" stroke-linejoin="round" stroke-linecap="round"/>
<path d="M358.3,256.0 C358.5,257.8 358.7,264.7 359.5,266.7 C360.3,268.7 361.8,268.2 363.0,267.8 C364.2,267.4 365.9,264.9 366.5,264.3" fill="none" stroke="#f6f6f6" stroke-width="1.40" stroke-linejoin="round" stroke-linecap="round"/>
<path d="M378.0,300.0 C379.3,298.7 383.3,294.3 386.0,292.0 C388.7,289.7 391.7,287.5 394.0,286.0 C396.3,284.5 398.0,283.3 400.0,283.0 C402.0,282.7 405.0,283.8 406.0,284.0" fill="none" stroke="#aaa" stroke-width="2.70" stroke-linejoin="round" stroke-linecap="round"/>
<path d="M378.0,300.0 C379.3,298.7 383.3,294.3 386.0,292.0 C388.7,289.7 391.7,287.5 394.0,286.0 C396.3,284.5 398.0,283.3 400.0,283.0 C402.0,282.7 405.0,283.8 406.0,284.0" fill="none" stroke="#f6f6f6" stroke-width="1.50" stroke-linejoin="round" stroke-linecap="round"/>
<path d="M416.8,302.8 C418.8,302.4 424.8,301.1 428.5,300.5 C432.2,299.9 435.7,299.8 439.0,299.3 C442.3,298.8 445.9,297.2 448.5,297.7 C451.1,298.2 452.8,300.0 454.6,302.3 C456.4,304.6 458.3,309.2 459.2,311.5 C460.1,313.8 459.9,315.2 460.0,316.0" fill="none" stroke="#9a9a9a" stroke-width="2.70" stroke-linejoin="round" stroke-linecap="round"/>
<path d="M416.8,302.8 C418.8,302.4 424.8,301.1 428.5,300.5 C432.2,299.9 435.7,299.8 439.0,299.3 C442.3,298.8 445.9,297.2 448.5,297.7 C451.1,298.2 452.8,300.0 454.6,302.3 C456.4,304.6 458.3,309.2 459.2,311.5 C460.1,313.8 459.9,315.2 460.0,316.0" fill="none" stroke="#f6f6f6" stroke-width="1.50" stroke-linejoin="round" stroke-linecap="round"/>
<path d="M410.0,309.0 C411.5,308.6 416.5,306.6 419.0,306.3 C421.5,306.1 422.1,307.9 425.0,307.5 C427.9,307.1 433.9,304.0 436.6,304.0 C439.3,304.0 439.7,305.9 441.3,307.5 C442.9,309.1 444.6,311.8 446.0,313.3 C447.4,314.9 448.5,316.0 450.0,316.8 C451.5,317.6 454.2,317.8 455.0,318.0" fill="none" stroke="#9a9a9a" stroke-width="2.70" stroke-linejoin="round" stroke-linecap="round"/>
<path d="M410.0,309.0 C411.5,308.6 416.5,306.6 419.0,306.3 C421.5,306.1 422.1,307.9 425.0,307.5 C427.9,307.1 433.9,304.0 436.6,304.0 C439.3,304.0 439.7,305.9 441.3,307.5 C442.9,309.1 444.6,311.8 446.0,313.3 C447.4,314.9 448.5,316.0 450.0,316.8 C451.5,317.6 454.2,317.8 455.0,318.0" fill="none" stroke="#f6f6f6" stroke-width="1.50" stroke-linejoin="round" stroke-linecap="round"/>
<path d="M410.0,315.0 C411.7,315.3 417.2,315.9 420.3,316.8 C423.4,317.7 425.4,319.5 428.5,320.3 C431.6,321.1 435.9,321.9 439.0,321.5 C442.1,321.1 444.8,318.2 447.0,318.0 C449.2,317.8 451.2,319.7 452.0,320.0" fill="none" stroke="#aaa" stroke-width="2.60" stroke-linejoin="round" stroke-linecap="round"/>
<path d="M410.0,315.0 C411.7,315.3 417.2,315.9 420.3,316.8 C423.4,317.7 425.4,319.5 428.5,320.3 C431.6,321.1 435.9,321.9 439.0,321.5 C442.1,321.1 444.8,318.2 447.0,318.0 C449.2,317.8 451.2,319.7 452.0,320.0" fill="none" stroke="#f6f6f6" stroke-width="1.40" stroke-linejoin="round" stroke-linecap="round"/>
<path d="M417.6,354.8 C418.7,353.7 421.9,350.1 424.0,348.0 C426.1,345.9 428.0,343.7 430.0,342.0 C432.0,340.3 434.2,338.8 436.0,338.0 C437.8,337.2 439.0,338.0 441.0,337.3 C443.0,336.6 445.5,335.6 448.0,334.0 C450.5,332.4 454.7,329.0 456.0,328.0" fill="none" stroke="#8c8c8c" stroke-width="2.80" stroke-linejoin="round" stroke-linecap="round"/>
<path d="M417.6,354.8 C418.7,353.7 421.9,350.1 424.0,348.0 C426.1,345.9 428.0,343.7 430.0,342.0 C432.0,340.3 434.2,338.8 436.0,338.0 C437.8,337.2 439.0,338.0 441.0,337.3 C443.0,336.6 445.5,335.6 448.0,334.0 C450.5,332.4 454.7,329.0 456.0,328.0" fill="none" stroke="#f6f6f6" stroke-width="1.60" stroke-linejoin="round" stroke-linecap="round"/>
<path d="M420.0,353.6 C421.3,353.2 425.7,351.7 428.0,351.5 C430.3,351.3 432.6,351.4 434.0,352.5 C435.4,353.6 436.3,356.8 436.3,358.3 C436.3,359.9 434.4,361.2 434.0,361.8" fill="none" stroke="#999" stroke-width="2.70" stroke-linejoin="round" stroke-linecap="round"/>
<path d="M420.0,353.6 C421.3,353.2 425.7,351.7 428.0,351.5 C430.3,351.3 432.6,351.4 434.0,352.5 C435.4,353.6 436.3,356.8 436.3,358.3 C436.3,359.9 434.4,361.2 434.0,361.8" fill="none" stroke="#f6f6f6" stroke-width="1.50" stroke-linejoin="round" stroke-linecap="round"/>
<ellipse cx="434.6" cy="289.4" rx="3.6" ry="6.6" fill="none" stroke="#6a6a6a" stroke-width="1.5" transform="rotate(22 434.6 289.4)"/>
<path d="M404,292 C402,298 404,307 409,310 C413,312 417,309 417,303 C417,296 414,291 410,290" fill="none" stroke="#8a8a8a" stroke-width="2.6" stroke-linecap="round"/>
<path d="M404,292 C402,298 404,307 409,310 C413,312 417,309 417,303 C417,296 414,291 410,290" fill="none" stroke="#f4f4f4" stroke-width="1.2" stroke-linecap="round"/>
<path d="M406,309 C409,311.5 413,311.5 415,309" fill="none" stroke="#444" stroke-width="1.6"/>
<path d="M414.6,277.7 L422.3,280.8" fill="none" stroke="#c8c8c8" stroke-width="1.2" stroke-linejoin="round" stroke-linecap="round"/>
<path d="M408.0,296.0 L425.0,290.0" fill="none" stroke="#555" stroke-width="1.0" stroke-linejoin="round" stroke-linecap="round"/>
<path d="M284.1,288.0 C284.6,288.0 285.4,287.2 287.0,287.8 C288.6,288.4 291.9,289.9 294.0,291.5 C296.1,293.1 298.8,296.3 299.8,297.3" fill="none" stroke="#777" stroke-width="2.70" stroke-linejoin="round" stroke-linecap="round"/>
<path d="M284.1,288.0 C284.6,288.0 285.4,287.2 287.0,287.8 C288.6,288.4 291.9,289.9 294.0,291.5 C296.1,293.1 298.8,296.3 299.8,297.3" fill="none" stroke="#f6f6f6" stroke-width="1.50" stroke-linejoin="round" stroke-linecap="round"/>
<path d="M284.7,289.1 C284.9,289.9 285.5,292.3 286.0,294.0 C286.5,295.7 286.6,297.4 287.5,299.5 C288.4,301.6 290.0,305.0 291.7,306.6 C293.4,308.2 295.4,308.8 297.5,309.0 C299.6,309.2 303.1,306.8 304.5,307.8 C305.9,308.8 305.4,313.6 305.6,314.8" fill="none" stroke="#8a8a8a" stroke-width="2.70" stroke-linejoin="round" stroke-linecap="round"/>
<path d="M284.7,289.1 C284.9,289.9 285.5,292.3 286.0,294.0 C286.5,295.7 286.6,297.4 287.5,299.5 C288.4,301.6 290.0,305.0 291.7,306.6 C293.4,308.2 295.4,308.8 297.5,309.0 C299.6,309.2 303.1,306.8 304.5,307.8 C305.9,308.8 305.4,313.6 305.6,314.8" fill="none" stroke="#f6f6f6" stroke-width="1.50" stroke-linejoin="round" stroke-linecap="round"/>
<path d="M302.0,296.3 L310.0,298.5 L318.5,302.0 L331.0,306.5 L343.5,310.8 L344.0,316.5 L333.0,315.0 L322.3,312.7 L312.0,309.5 L305.0,306.0 Z" fill="url(#gs1)" stroke="#8a8a8a" stroke-width="0.7" stroke-linejoin="round"/>
<path d="M306.0,301.0 C308.3,301.9 313.8,304.4 320.0,306.5 C326.2,308.6 339.2,312.3 343.0,313.5" fill="none" stroke="#a8a8a8" stroke-width="0.7" stroke-linejoin="round" stroke-linecap="round"/>
<path d="M303.2,280 C305.5,277 312.5,276.3 317.8,278.8 C321,280.8 323,284.3 323.6,288.5 L321.3,289 C320,286 317.8,284 314.8,283.2 C311,282.3 307.5,283.5 305.2,287 C303.8,285 303.2,282.5 303.2,280 Z" fill="#606060"/>
<path d="M324.2,290.6 C324.1,289.5 324.2,286.0 323.3,283.8 C322.4,281.6 320.4,279.0 318.5,277.7 C316.6,276.4 314.0,276.0 312.0,275.8 C310.0,275.6 308.1,275.8 306.5,276.5 C304.9,277.2 303.2,278.6 302.5,280.0 C301.8,281.4 301.9,283.1 302.0,285.0 C302.1,286.9 301.9,289.4 303.0,291.5 C304.1,293.6 306.8,295.8 308.8,297.3 C310.8,298.8 312.8,299.4 315.0,300.5 C317.2,301.6 319.5,302.8 322.3,304.0 C325.1,305.2 328.5,306.3 332.0,307.6 C335.5,308.9 341.6,311.3 343.5,312.0" fill="none" stroke="#8a8a8a" stroke-width="3.80" stroke-linejoin="round" stroke-linecap="round"/>
<path d="M324.2,290.6 C324.1,289.5 324.2,286.0 323.3,283.8 C322.4,281.6 320.4,279.0 318.5,277.7 C316.6,276.4 314.0,276.0 312.0,275.8 C310.0,275.6 308.1,275.8 306.5,276.5 C304.9,277.2 303.2,278.6 302.5,280.0 C301.8,281.4 301.9,283.1 302.0,285.0 C302.1,286.9 301.9,289.4 303.0,291.5 C304.1,293.6 306.8,295.8 308.8,297.3 C310.8,298.8 312.8,299.4 315.0,300.5 C317.2,301.6 319.5,302.8 322.3,304.0 C325.1,305.2 328.5,306.3 332.0,307.6 C335.5,308.9 341.6,311.3 343.5,312.0" fill="none" stroke="#f8f8f8" stroke-width="2.60" stroke-linejoin="round" stroke-linecap="round"/>
<path d="M302.0,297.3 L307.0,298.5 L309.5,309.0 L304.0,307.5 Z" fill="#b0b0b0" stroke="#8a8a8a" stroke-width="0.7" stroke-linejoin="round"/>
<path d="M320.2,268.7 L328.4,267.6 L331.3,283.3 L334.8,290.3 L335.4,298.5 L333.2,291.8 L327.8,285.6 L324.3,278.6 Z" fill="url(#gd)" stroke="#6a6a6a" stroke-width="0.6" stroke-linejoin="round"/>
<path d="M323.0,286.8 C324.0,286.6 327.0,286.4 329.0,285.6 C331.0,284.8 333.0,282.8 334.8,282.0 C336.6,281.2 339.1,281.2 340.0,281.0" fill="none" stroke="#aaa" stroke-width="2.50" stroke-linejoin="round" stroke-linecap="round"/>
<path d="M323.0,286.8 C324.0,286.6 327.0,286.4 329.0,285.6 C331.0,284.8 333.0,282.8 334.8,282.0 C336.6,281.2 339.1,281.2 340.0,281.0" fill="none" stroke="#f6f6f6" stroke-width="1.30" stroke-linejoin="round" stroke-linecap="round"/>
<path d="M341.0,316.5 L326.0,324.5 L324.0,322.5 L320.6,330.2 L330.5,333.2 L328.0,330.5 L341.0,324.0 Z" fill="#909090" stroke="#777" stroke-width="0.6" stroke-linejoin="round"/>
<path d="M313.5,318.0 L329.0,318.6 L328.5,322.4 L315.0,321.6 Z" fill="#6e6e6e" stroke="#666" stroke-width="0.5" stroke-linejoin="round"/>
<path d="M302.1,319.6 C302.9,319.7 305.4,318.9 306.8,320.2 C308.2,321.4 308.9,325.2 310.3,327.1 C311.7,329.0 313.2,330.8 315.0,331.8 C316.8,332.8 319.8,332.8 320.8,333.0" fill="none" stroke="#888" stroke-width="2.70" stroke-linejoin="round" stroke-linecap="round"/>
<path d="M302.1,319.6 C302.9,319.7 305.4,318.9 306.8,320.2 C308.2,321.4 308.9,325.2 310.3,327.1 C311.7,329.0 313.2,330.8 315.0,331.8 C316.8,332.8 319.8,332.8 320.8,333.0" fill="none" stroke="#f6f6f6" stroke-width="1.50" stroke-linejoin="round" stroke-linecap="round"/>
<path d="M291.7,305.5 C292.7,306.2 295.2,309.2 297.5,309.7 C299.8,310.2 304.2,308.7 305.6,308.5" fill="none" stroke="#999" stroke-width="2.50" stroke-linejoin="round" stroke-linecap="round"/>
<path d="M291.7,305.5 C292.7,306.2 295.2,309.2 297.5,309.7 C299.8,310.2 304.2,308.7 305.6,308.5" fill="none" stroke="#f6f6f6" stroke-width="1.30" stroke-linejoin="round" stroke-linecap="round"/>
<path d="M342.0,264.3 L347.8,262.0 L356.5,309.8 L348.0,310.5 Z" fill="#d2d2d2" stroke="#999" stroke-width="0.6" stroke-linejoin="round"/>
<path d="M343.5,266.0 L349.5,309.0" fill="none" stroke="#f6f6f6" stroke-width="1.3" stroke-linejoin="round" stroke-linecap="round"/>
<path d="M350.2,276.0 L360.0,275.4 L370.0,277.1 L373.8,284.0 L368.8,283.4 L360.0,283.0 L350.2,283.2 Z" fill="url(#gh)" stroke="#888" stroke-width="0.7" stroke-linejoin="round"/>
<path d="M350.2,276.0 L352.0,281.0 L350.2,283.2 L348.0,280.0 Z" fill="#777" stroke="#666" stroke-width="0.4" stroke-linejoin="round"/>
<path d="M370.0,277.5 L374.5,281.0 L375.0,288.0 L372.3,293.0 L364.0,298.5 L357.5,301.0 L355.5,297.5 L362.0,293.0 L369.0,288.0 L369.5,283.0 Z" fill="#ececec" stroke="#888" stroke-width="0.7" stroke-linejoin="round"/>
<path d="M366.5,277.2 L370.0,277.3 L371.2,283.6 L368.6,283.2 Z" fill="#5c5c5c" stroke="#555" stroke-width="0.4" stroke-linejoin="round"/>
<path d="M356.0,298.0 L364.0,299.0 L370.0,302.5 L372.5,308.0 L366.0,310.5 L358.0,307.0 L355.0,303.0 Z" fill="#e4e4e4" stroke="#888" stroke-width="0.7" stroke-linejoin="round"/>
<path d="M355.4,298.3 L358.5,300.0 L358.5,304.0 L355.5,303.0 Z" fill="#555" stroke="#555" stroke-width="0.4" stroke-linejoin="round"/>
<path d="M375.0,323.0 L380.0,322.0 L394.0,343.0 L389.0,347.0 Z" fill="#cbcbcb" stroke="#a4a4a4" stroke-width="0.6" stroke-linejoin="round"/>
<path d="M388.5,343.5 L410.0,328.0 L414.0,330.5 L392.0,347.0 Z" fill="#d2d2d2" stroke="#a0a0a0" stroke-width="0.6" stroke-linejoin="round"/>
<path d="M392.0,337.0 L412.0,323.5 L416.0,326.5 L395.0,341.0 Z" fill="#dadada" stroke="#a8a8a8" stroke-width="0.6" stroke-linejoin="round"/>
<path d="M396.0,348.0 L416.0,333.5 L419.4,336.0 L399.0,351.0 Z" fill="#c8c8c8" stroke="#a0a0a0" stroke-width="0.6" stroke-linejoin="round"/>
<path d="M376.3,332.5 C377.4,333.1 380.3,335.6 383.0,335.9 C385.7,336.2 389.8,335.7 392.5,334.5 C395.2,333.3 397.9,330.9 399.2,328.5 C400.4,326.1 400.9,322.5 400.0,320.4 C399.1,318.3 396.7,316.7 394.0,316.0 C391.3,315.3 386.8,315.3 384.0,316.0 C381.2,316.7 378.2,319.3 377.0,320.0" fill="none" stroke="#9c9c9c" stroke-width="3.40" stroke-linejoin="round" stroke-linecap="round"/>
<path d="M376.3,332.5 C377.4,333.1 380.3,335.6 383.0,335.9 C385.7,336.2 389.8,335.7 392.5,334.5 C395.2,333.3 397.9,330.9 399.2,328.5 C400.4,326.1 400.9,322.5 400.0,320.4 C399.1,318.3 396.7,316.7 394.0,316.0 C391.3,315.3 386.8,315.3 384.0,316.0 C381.2,316.7 378.2,319.3 377.0,320.0" fill="none" stroke="#f7f7f7" stroke-width="2.20" stroke-linejoin="round" stroke-linecap="round"/>
<path d="M419.4,332.5 C421.4,331.8 427.9,328.5 431.5,328.5 C435.1,328.5 439.2,330.7 441.0,332.5 C442.8,334.3 443.4,337.2 442.3,339.2 C441.2,341.2 436.4,343.0 434.2,344.6 C431.9,346.2 431.3,347.2 428.8,348.6 C426.3,350.0 421.4,350.9 419.4,352.7 C417.4,354.5 417.1,358.3 416.7,359.4" fill="none" stroke="#9a9a9a" stroke-width="3.40" stroke-linejoin="round" stroke-linecap="round"/>
<path d="M419.4,332.5 C421.4,331.8 427.9,328.5 431.5,328.5 C435.1,328.5 439.2,330.7 441.0,332.5 C442.8,334.3 443.4,337.2 442.3,339.2 C441.2,341.2 436.4,343.0 434.2,344.6 C431.9,346.2 431.3,347.2 428.8,348.6 C426.3,350.0 421.4,350.9 419.4,352.7 C417.4,354.5 417.1,358.3 416.7,359.4" fill="none" stroke="#f7f7f7" stroke-width="2.20" stroke-linejoin="round" stroke-linecap="round"/>
<path d="M415.0,318.0 C416.7,317.7 421.7,316.0 425.0,316.0 C428.3,316.0 431.7,317.0 435.0,318.0 C438.3,319.0 443.3,321.3 445.0,322.0" fill="none" stroke="#aaa" stroke-width="2.80" stroke-linejoin="round" stroke-linecap="round"/>
<path d="M415.0,318.0 C416.7,317.7 421.7,316.0 425.0,316.0 C428.3,316.0 431.7,317.0 435.0,318.0 C438.3,319.0 443.3,321.3 445.0,322.0" fill="none" stroke="#f6f6f6" stroke-width="1.60" stroke-linejoin="round" stroke-linecap="round"/>
<path d="M371.0,322.0 L377.0,325.5 L365.0,349.0 L361.0,356.5 L355.5,354.0 L360.0,345.0 Z" fill="#cdcdcd" stroke="#9c9c9c" stroke-width="0.6" stroke-linejoin="round"/>
<path d="M371.5,323.0 L357.0,355.0" fill="none" stroke="#a8a8a8" stroke-width="1.0" stroke-linejoin="round" stroke-linecap="round"/>
<path d="M374.0,296.0 L379.0,296.0 L378.0,306.5 L373.0,306.5 Z" fill="#dedede" stroke="#a8a8a8" stroke-width="0.5" stroke-linejoin="round"/>
<path d="M330.0,310.4 C332.0,310.2 337.8,309.6 342.0,309.0 C346.2,308.4 350.6,307.2 355.0,306.5 C359.4,305.8 365.0,305.1 368.5,304.6 C372.0,304.1 374.8,303.7 376.0,303.5" fill="none" stroke="#9a9a9a" stroke-width="4.60" stroke-linejoin="round" stroke-linecap="round"/>
<path d="M330.0,310.4 C332.0,310.2 337.8,309.6 342.0,309.0 C346.2,308.4 350.6,307.2 355.0,306.5 C359.4,305.8 365.0,305.1 368.5,304.6 C372.0,304.1 374.8,303.7 376.0,303.5" fill="none" stroke="#f8f8f8" stroke-width="3.40" stroke-linejoin="round" stroke-linecap="round"/>
<path d="M356.0,309.6 L369.0,307.4" fill="none" stroke="#555" stroke-width="1.4" stroke-linejoin="round" stroke-linecap="round"/>
<path d="M341.5,316.0 C341.8,317.9 344.1,324.8 343.5,327.7 C342.9,330.6 336.8,332.2 337.7,333.5 C338.6,334.8 345.0,335.4 349.2,335.4 C353.4,335.4 359.2,334.8 362.7,333.5 C366.2,332.2 369.4,330.9 370.4,327.7 C371.4,324.5 367.2,317.7 368.5,314.2 C369.8,310.7 376.4,307.8 378.0,306.5" fill="none" stroke="#9a9a9a" stroke-width="3.80" stroke-linejoin="round" stroke-linecap="round"/>
<path d="M341.5,316.0 C341.8,317.9 344.1,324.8 343.5,327.7 C342.9,330.6 336.8,332.2 337.7,333.5 C338.6,334.8 345.0,335.4 349.2,335.4 C353.4,335.4 359.2,334.8 362.7,333.5 C366.2,332.2 369.4,330.9 370.4,327.7 C371.4,324.5 367.2,317.7 368.5,314.2 C369.8,310.7 376.4,307.8 378.0,306.5" fill="none" stroke="#f7f7f7" stroke-width="2.60" stroke-linejoin="round" stroke-linecap="round"/>
<path d="M372.3,318.0 C374.9,318.3 383.5,320.6 387.7,320.0 C391.9,319.4 394.8,317.1 397.3,314.2 C399.9,311.3 402.1,304.6 403.0,302.7" fill="none" stroke="#9a9a9a" stroke-width="4.20" stroke-linejoin="round" stroke-linecap="round"/>
<path d="M372.3,318.0 C374.9,318.3 383.5,320.6 387.7,320.0 C391.9,319.4 394.8,317.1 397.3,314.2 C399.9,311.3 402.1,304.6 403.0,302.7" fill="none" stroke="#f7f7f7" stroke-width="3.00" stroke-linejoin="round" stroke-linecap="round"/>
<path d="M373.5,315.5 C374.5,316.1 376.6,318.2 379.3,319.0 C382.0,319.8 387.2,320.4 389.8,320.2 C392.4,320.0 394.1,318.2 395.0,317.8" fill="none" stroke="#a8a8a8" stroke-width="2.80" stroke-linejoin="round" stroke-linecap="round"/>
<path d="M373.5,315.5 C374.5,316.1 376.6,318.2 379.3,319.0 C382.0,319.8 387.2,320.4 389.8,320.2 C392.4,320.0 394.1,318.2 395.0,317.8" fill="none" stroke="#f6f6f6" stroke-width="1.60" stroke-linejoin="round" stroke-linecap="round"/>
<path d="M335.0,349.3 C336.6,348.3 342.0,344.1 344.3,343.5 C346.6,342.9 348.4,344.1 349.0,345.8 C349.6,347.6 348.0,352.6 347.8,354.0" fill="none" stroke="#a8a8a8" stroke-width="3.00" stroke-linejoin="round" stroke-linecap="round"/>
<path d="M335.0,349.3 C336.6,348.3 342.0,344.1 344.3,343.5 C346.6,342.9 348.4,344.1 349.0,345.8 C349.6,347.6 348.0,352.6 347.8,354.0" fill="none" stroke="#f6f6f6" stroke-width="1.80" stroke-linejoin="round" stroke-linecap="round"/>
<path d="M333.0,318.0 C333.8,319.0 337.5,321.7 338.0,324.0 C338.5,326.3 337.0,329.7 336.0,332.0 C335.0,334.3 332.7,337.0 332.0,338.0" fill="none" stroke="#aaa" stroke-width="3.00" stroke-linejoin="round" stroke-linecap="round"/>
<path d="M333.0,318.0 C333.8,319.0 337.5,321.7 338.0,324.0 C338.5,326.3 337.0,329.7 336.0,332.0 C335.0,334.3 332.7,337.0 332.0,338.0" fill="none" stroke="#f6f6f6" stroke-width="1.80" stroke-linejoin="round" stroke-linecap="round"/>
<path d="M392.3,306.0 L400.0,304.0 L402.8,318.0 L395.0,320.3 Z" fill="#c8c8c8" stroke="#a0a0a0" stroke-width="0.6" stroke-linejoin="round"/>
<path d="M433.0,337.0 L440.0,339.0" fill="none" stroke="#444" stroke-width="1.4" stroke-linejoin="round" stroke-linecap="round"/>
<path d="M270.0,349.2 C271.5,348.9 276.1,348.2 279.2,347.7 C282.3,347.2 286.2,345.9 288.5,346.2 C290.8,346.5 291.7,348.6 293.0,349.5 C294.3,350.4 294.9,351.3 296.2,351.5 C297.5,351.7 299.8,351.6 300.8,350.8 C301.8,350.1 301.8,347.6 302.0,347.0" fill="none" stroke="#9a9a9a" stroke-width="2.90" stroke-linejoin="round" stroke-linecap="round"/>
<path d="M270.0,349.2 C271.5,348.9 276.1,348.2 279.2,347.7 C282.3,347.2 286.2,345.9 288.5,346.2 C290.8,346.5 291.7,348.6 293.0,349.5 C294.3,350.4 294.9,351.3 296.2,351.5 C297.5,351.7 299.8,351.6 300.8,350.8 C301.8,350.1 301.8,347.6 302.0,347.0" fill="none" stroke="#f6f6f6" stroke-width="1.70" stroke-linejoin="round" stroke-linecap="round"/>
<linearGradient id="ghl" x1="0" y1="0" x2="0" y2="1"><stop offset="0" stop-color="#fbfbfb"/><stop offset="0.55" stop-color="#ededed"/><stop offset="1" stop-color="#bdbdbd"/></linearGradient>
<path d="M301.9,341 C305,338.3 310,338.3 313,339.5 L316,342 C320,343.5 324,345.5 327,349 C333,350.8 338,351.5 341,353 C345,355 350,357 355,357.7 C357,358.5 358.5,360 358.5,361.5 L355.5,367.5 C352,371 346,373 341,373.8 C335,373.5 330,372.5 327.3,371.5 L323.5,367.7 C316,366.8 308,365.5 304,363.3 C302.5,359 302,350 301.9,341 Z" fill="url(#ghl)" stroke="#929292" stroke-width="0.8"/>
<path d="M316,342 C320,343.5 324,345.5 327,349 L327,352 C323,349 319,347 316,346 Z" fill="#e0e0e0"/>
<path d="M313,339.5 C318,348 321,358 323.5,367.7" fill="none" stroke="#9a9a9a" stroke-width="0.8"/>
<path d="M323.5,356 L323.5,367.7 L327.3,371.5 L327,352 Z" fill="#b8b8b8"/>
<path d="M326,350 C326.5,357 327,364 327.3,371.5" fill="none" stroke="#9a9a9a" stroke-width="0.8"/>
<path d="M341,353 C341.5,360 341.3,367 341,373.8" fill="none" stroke="#a0a0a0" stroke-width="0.7"/>
<path d="M345.8,358.5 C346.5,363 347,367 347.3,371.5" fill="none" stroke="#9a9a9a" stroke-width="0.8"/>
<path d="M341,353 C343,355 345,357 345.8,358.5 L347.3,371.5 C345,372.8 343,373.5 341,373.8 Z" fill="#c4c4c4"/>
<ellipse cx="334.2" cy="352.7" rx="4" ry="1.8" fill="#6a6a6a" transform="rotate(8 334.2 352.7)"/>
<path d="M302,343 C302.5,350 303,357 304,363.3 L307,364.5 C305.5,357 305,350 305,342 Z" fill="#d8d8d8"/>
<path d="M324.0,374.0 L331.0,376.0 L336.0,394.0 L330.0,392.0 Z" fill="#d6d6d6" stroke="#b4b4b4" stroke-width="0.5" stroke-linejoin="round"/>
<path d="M318.0,374.0 L325.0,376.0 L330.0,390.0 L326.0,392.0 Z" fill="#dadada" stroke="#b0b0b0" stroke-width="0.5" stroke-linejoin="round"/>
<path d="M346.3,380.0 L355.0,381.0 L354.0,391.6 L347.0,389.0 Z" fill="#c8c8c8" stroke="#aaa" stroke-width="0.5" stroke-linejoin="round"/>
<path d="M336.0,404.0 L342.0,402.5 L352.5,428.0 L346.0,431.0 Z" fill="url(#gs1)" stroke="#aaa" stroke-width="0.6" stroke-linejoin="round"/>
<path d="M352.4,396.3 L357.5,396.3 L356.5,433.0 L352.5,433.0 Z" fill="#bcbcbc" stroke="#a4a4a4" stroke-width="0.5" stroke-linejoin="round"/>
<path d="M341.7,415.0 L346.0,414.0 L351.0,432.5 L348.0,433.0 Z" fill="#d0d0d0" stroke="#b0b0b0" stroke-width="0.5" stroke-linejoin="round"/>
<path d="M331.5,380.0 C331.9,381.7 332.9,387.0 334.0,390.0 C335.1,393.0 336.3,395.7 338.0,398.0 C339.7,400.3 342.2,402.2 344.0,404.0 C345.8,405.8 348.2,408.2 349.0,409.0" fill="none" stroke="#bbb" stroke-width="2.60" stroke-linejoin="round" stroke-linecap="round"/>
<path d="M331.5,380.0 C331.9,381.7 332.9,387.0 334.0,390.0 C335.1,393.0 336.3,395.7 338.0,398.0 C339.7,400.3 342.2,402.2 344.0,404.0 C345.8,405.8 348.2,408.2 349.0,409.0" fill="none" stroke="#f6f6f6" stroke-width="1.40" stroke-linejoin="round" stroke-linecap="round"/>
<path d="M338.0,384.0 C339.0,384.7 342.3,386.0 344.0,388.0 C345.7,390.0 347.7,393.7 348.0,396.0 C348.3,398.3 346.3,401.0 346.0,402.0" fill="none" stroke="#c0c0c0" stroke-width="2.60" stroke-linejoin="round" stroke-linecap="round"/>
<path d="M338.0,384.0 C339.0,384.7 342.3,386.0 344.0,388.0 C345.7,390.0 347.7,393.7 348.0,396.0 C348.3,398.3 346.3,401.0 346.0,402.0" fill="none" stroke="#f6f6f6" stroke-width="1.40" stroke-linejoin="round" stroke-linecap="round"/>
<path d="M347.5,433.6 C347.4,435.0 347.4,439.1 347.0,441.8 C346.6,444.5 345.3,447.1 345.2,450.0 C345.1,452.9 345.3,457.2 346.3,459.3 C347.3,461.4 349.1,462.6 351.0,462.8 C352.9,463.0 356.1,462.1 358.0,460.5 C359.9,458.9 362.0,455.6 362.6,453.5 C363.2,451.4 362.7,449.4 361.5,447.6 C360.3,445.9 357.0,444.6 355.6,443.0 C354.2,441.4 353.7,439.9 353.3,438.3 C352.9,436.7 353.3,434.4 353.3,433.6" fill="none" stroke="#c4c4c4" stroke-width="2.80" stroke-linejoin="round" stroke-linecap="round"/>
<path d="M347.5,433.6 C347.4,435.0 347.4,439.1 347.0,441.8 C346.6,444.5 345.3,447.1 345.2,450.0 C345.1,452.9 345.3,457.2 346.3,459.3 C347.3,461.4 349.1,462.6 351.0,462.8 C352.9,463.0 356.1,462.1 358.0,460.5 C359.9,458.9 362.0,455.6 362.6,453.5 C363.2,451.4 362.7,449.4 361.5,447.6 C360.3,445.9 357.0,444.6 355.6,443.0 C354.2,441.4 353.7,439.9 353.3,438.3 C352.9,436.7 353.3,434.4 353.3,433.6" fill="none" stroke="#f8f8f8" stroke-width="1.60" stroke-linejoin="round" stroke-linecap="round"/>
<path d="M372.0,415.0 C373.3,415.5 377.3,417.0 380.0,418.0 C382.7,419.0 386.0,421.3 388.0,421.0 C390.0,420.7 391.3,416.8 392.0,416.0" fill="none" stroke="#c8c8c8" stroke-width="2.60" stroke-linejoin="round" stroke-linecap="round"/>
<path d="M372.0,415.0 C373.3,415.5 377.3,417.0 380.0,418.0 C382.7,419.0 386.0,421.3 388.0,421.0 C390.0,420.7 391.3,416.8 392.0,416.0" fill="none" stroke="#f6f6f6" stroke-width="1.40" stroke-linejoin="round" stroke-linecap="round"/>
<path d="M373,402 C378,398 386,398 391,402 L391.5,412 C387,416 378,416 373.5,411 Z" fill="url(#gh2)" stroke="#b0b0b0" stroke-width="0.7"/>
<path d="M375,412 C380,417 388,418 392,414 L391,424 C386,427 379,426 375,421 Z" fill="#f2f2f2" stroke="#b8b8b8" stroke-width="0.6"/>
<path d="M356.0,352.0 L372.0,346.0 L376.0,352.0 L360.0,360.0 Z" fill="#cfcfcf" stroke="#aaa" stroke-width="0.5" stroke-linejoin="round"/>
<path d="M364.0,360.0 L380.0,356.0 L384.0,362.0 L368.0,366.0 Z" fill="#e0e0e0" stroke="#b0b0b0" stroke-width="0.5" stroke-linejoin="round"/>
<path d="M396.7,350.0 C397.2,351.3 398.4,355.7 400.0,358.0 C401.6,360.3 403.7,362.7 406.0,364.0 C408.3,365.3 411.7,366.3 414.0,366.0 C416.3,365.7 419.0,362.7 420.0,362.0" fill="none" stroke="#a8a8a8" stroke-width="3.20" stroke-linejoin="round" stroke-linecap="round"/>
<path d="M396.7,350.0 C397.2,351.3 398.4,355.7 400.0,358.0 C401.6,360.3 403.7,362.7 406.0,364.0 C408.3,365.3 411.7,366.3 414.0,366.0 C416.3,365.7 419.0,362.7 420.0,362.0" fill="none" stroke="#f6f6f6" stroke-width="2.00" stroke-linejoin="round" stroke-linecap="round"/>
<path d="M384.0,362.0 C385.0,363.0 388.0,366.3 390.0,368.0 C392.0,369.7 394.0,370.3 396.0,372.0 C398.0,373.7 401.3,375.7 402.0,378.0 C402.7,380.3 401.3,383.7 400.0,386.0 C398.7,388.3 395.0,391.0 394.0,392.0" fill="none" stroke="#b8b8b8" stroke-width="2.80" stroke-linejoin="round" stroke-linecap="round"/>
<path d="M384.0,362.0 C385.0,363.0 388.0,366.3 390.0,368.0 C392.0,369.7 394.0,370.3 396.0,372.0 C398.0,373.7 401.3,375.7 402.0,378.0 C402.7,380.3 401.3,383.7 400.0,386.0 C398.7,388.3 395.0,391.0 394.0,392.0" fill="none" stroke="#f6f6f6" stroke-width="1.60" stroke-linejoin="round" stroke-linecap="round"/>
<path d="M360.0,380.0 C361.0,379.7 364.0,377.7 366.0,378.0 C368.0,378.3 370.0,380.3 372.0,382.0 C374.0,383.7 377.0,387.0 378.0,388.0" fill="none" stroke="#c0c0c0" stroke-width="2.60" stroke-linejoin="round" stroke-linecap="round"/>
<path d="M360.0,380.0 C361.0,379.7 364.0,377.7 366.0,378.0 C368.0,378.3 370.0,380.3 372.0,382.0 C374.0,383.7 377.0,387.0 378.0,388.0" fill="none" stroke="#f6f6f6" stroke-width="1.40" stroke-linejoin="round" stroke-linecap="round"/>
<linearGradient id="grh" x1="0" y1="0" x2="1" y2="0"><stop offset="0" stop-color="#8c8c8c"/><stop offset="0.45" stop-color="#cfcfcf"/><stop offset="1" stop-color="#ececec"/></linearGradient>
<path d="M456.3,325 C457.5,321 464,319.5 468.5,322 C470,328 470.2,335 469.5,341 C465,343.5 459,343 455.8,340 C455.5,335 455.6,330 456.3,325 Z" fill="url(#grh)" stroke="#888" stroke-width="0.8"/>
<path d="M446,343.5 C452,340.5 462,340 469.7,341.5 C468,347 465,352 461.7,355.8 C456,355 450,353 444.3,351 C444.5,348 445,345.5 446,343.5 Z" fill="url(#gh2)" stroke="#888" stroke-width="0.8"/>
<path d="M446,343.5 C448.5,342 451.5,341.5 453.8,341.5 C452,345 451.5,349 452.6,352.6 C449.5,352.3 446.5,351.8 444.3,351 C444.5,348 445,345.5 446,343.5 Z" fill="#7c7c7c"/>
<path d="M436.3,360.5 C444,357.5 454,356.5 461.7,355.8 C463.5,359 463.5,363 463.3,365.3 C458,368 449,369.5 441,368.5 C438,367 436.5,364 436.3,360.5 Z" fill="url(#gh2)" stroke="#888" stroke-width="0.8"/>
<path d="M453.8,356.2 C457,355.8 460,355.8 461.7,355.8 C463.5,359 463.5,363 463.3,365.3 C460.5,366.5 458,367 456,367.3 C456.5,363 455.5,359 453.8,356.2 Z" fill="#9a9a9a"/>
<path d="M458.0,320.0 C458.7,319.3 460.7,316.9 462.0,316.0 C463.3,315.1 465.3,314.8 466.0,314.5" fill="none" stroke="#999" stroke-width="2.60" stroke-linejoin="round" stroke-linecap="round"/>
<path d="M458.0,320.0 C458.7,319.3 460.7,316.9 462.0,316.0 C463.3,315.1 465.3,314.8 466.0,314.5" fill="none" stroke="#f6f6f6" stroke-width="1.40" stroke-linejoin="round" stroke-linecap="round"/>
<path d="M464.4,315.8 L471.5,314.0 L475.0,308.2 L481.5,305.8 L487.7,310.6 L496.0,307.8 L497.4,305.2" fill="none" stroke="#4a0a58" stroke-width="4.9" stroke-linejoin="round" stroke-linecap="round" stroke-opacity="0.55"/>
<path d="M464.4,315.8 L471.5,314.0 L475.0,308.2 L481.5,305.8 L487.7,310.6 L496.0,307.8 L497.4,305.2" fill="none" stroke="#7a2596" stroke-width="4.0" stroke-linejoin="round" stroke-linecap="round"/>
<path d="M497.4,305.2 L497.6,302.0 L497.8,299.6" fill="none" stroke="#151570" stroke-width="4.9" stroke-linejoin="round" stroke-linecap="round" stroke-opacity="0.55"/>
<path d="M497.4,305.2 L497.6,302.0 L497.8,299.6" fill="none" stroke="#2c2ca8" stroke-width="4.0" stroke-linejoin="round" stroke-linecap="round"/>
<path d="M471.2,334.5 L470.4,339.3 L474.0,343.1 L477.9,346.0 L482.6,349.8 L485.0,353.6 L482.6,356.4 L480.0,357.6" fill="none" stroke="#a04a00" stroke-width="4.7" stroke-linejoin="round" stroke-linecap="round" stroke-opacity="0.55"/>
<path d="M471.2,334.5 L470.4,339.3 L474.0,343.1 L477.9,346.0 L482.6,349.8 L485.0,353.6 L482.6,356.4 L480.0,357.6" fill="none" stroke="#ee7a1a" stroke-width="3.8" stroke-linejoin="round" stroke-linecap="round"/>
<path d="M480.0,357.6 L476.9,359.3 L474.0,363.1 L472.8,364.8" fill="none" stroke="#151570" stroke-width="4.7" stroke-linejoin="round" stroke-linecap="round" stroke-opacity="0.55"/>
<path d="M480.0,357.6 L476.9,359.3 L474.0,363.1 L472.8,364.8" fill="none" stroke="#2c2ca8" stroke-width="3.8" stroke-linejoin="round" stroke-linecap="round"/>
<path d="M476.0,354.5 L477.0,357.0" fill="none" stroke="#151570" stroke-width="3.3" stroke-linejoin="round" stroke-linecap="round" stroke-opacity="0.55"/>
<path d="M476.0,354.5 L477.0,357.0" fill="none" stroke="#2c2ca8" stroke-width="2.4" stroke-linejoin="round" stroke-linecap="round"/>
<path d="M422.1,363.4 L426.5,368.6 L430.8,373.6" fill="none" stroke="#151570" stroke-width="5.300000000000001" stroke-linejoin="round" stroke-linecap="round" stroke-opacity="0.55"/>
<path d="M422.1,363.4 L426.5,368.6 L430.8,373.6" fill="none" stroke="#2c2ca8" stroke-width="4.4" stroke-linejoin="round" stroke-linecap="round"/>
<path d="M423.5,364.2 L429.5,371.5" stroke="#e080c8" stroke-width="1.0" stroke-opacity="0.8"/>
<path d="M430.8,373.6 L435.2,369.5 L439.2,366.8" fill="none" stroke="#c070a8" stroke-width="5.300000000000001" stroke-linejoin="round" stroke-linecap="round" stroke-opacity="0.55"/>
<path d="M430.8,373.6 L435.2,369.5 L439.2,366.8" fill="none" stroke="#ee9ad6" stroke-width="4.4" stroke-linejoin="round" stroke-linecap="round"/>
<path d="M384.1,353.4 L379.8,354.6" fill="none" stroke="#2a6a2a" stroke-width="3.5" stroke-linejoin="round" stroke-linecap="round" stroke-opacity="0.55"/>
<path d="M384.1,353.4 L379.8,354.6" fill="none" stroke="#4a9a48" stroke-width="2.6" stroke-linejoin="round" stroke-linecap="round"/>
<path d="M388.8,351.7 L384.1,353.4 L390.0,355.2 L391.1,359.8 L392.3,364.5 L394.6,368.0 L400.5,368.0 L402.8,370.3" fill="none" stroke="#2a6a2a" stroke-width="4.4" stroke-linejoin="round" stroke-linecap="round" stroke-opacity="0.55"/>
<path d="M388.8,351.7 L384.1,353.4 L390.0,355.2 L391.1,359.8 L392.3,364.5 L394.6,368.0 L400.5,368.0 L402.8,370.3" fill="none" stroke="#4a9a48" stroke-width="3.5" stroke-linejoin="round" stroke-linecap="round"/>
<path d="M402.8,370.3 L404.5,373.8" fill="none" stroke="#151570" stroke-width="4.4" stroke-linejoin="round" stroke-linecap="round" stroke-opacity="0.55"/>
<path d="M402.8,370.3 L404.5,373.8" fill="none" stroke="#2c2ca8" stroke-width="3.5" stroke-linejoin="round" stroke-linecap="round"/>
<path d="M388.2,346.4 L388.8,351.1" fill="none" stroke="#151570" stroke-width="4.4" stroke-linejoin="round" stroke-linecap="round" stroke-opacity="0.55"/>
<path d="M388.2,346.4 L388.8,351.1" fill="none" stroke="#2c2ca8" stroke-width="3.5" stroke-linejoin="round" stroke-linecap="round"/>
<path d="M376.0,363.3 L375.5,366.5" fill="none" stroke="#b09010" stroke-width="3.5" stroke-linejoin="round" stroke-linecap="round" stroke-opacity="0.55"/>
<path d="M376.0,363.3 L375.5,366.5" fill="none" stroke="#f2d448" stroke-width="2.6" stroke-linejoin="round" stroke-linecap="round"/>
<path d="M362.5,368.6 L369.0,369.1 L374.8,368.0 L381.8,369.1 L384.4,372.6 L386.0,375.0" fill="none" stroke="#b09010" stroke-width="5.5" stroke-linejoin="round" stroke-linecap="round" stroke-opacity="0.55"/>
<path d="M362.5,368.6 L369.0,369.1 L374.8,368.0 L381.8,369.1 L384.4,372.6 L386.0,375.0" fill="none" stroke="#f2d448" stroke-width="4.6" stroke-linejoin="round" stroke-linecap="round"/>
<path d="M386.0,375.5 L387.0,381.0 L387.3,388.0" fill="none" stroke="#151570" stroke-width="5.5" stroke-linejoin="round" stroke-linecap="round" stroke-opacity="0.55"/>
<path d="M386.0,375.5 L387.0,381.0 L387.3,388.0" fill="none" stroke="#2c2ca8" stroke-width="4.6" stroke-linejoin="round" stroke-linecap="round"/>
<line x1="385.20" y1="378.20" x2="388.60" y2="378.20" stroke="#f0d040" stroke-width="1.1"/>
<line x1="385.20" y1="381.20" x2="388.60" y2="381.20" stroke="#f0d040" stroke-width="1.1"/>
<line x1="385.20" y1="384.20" x2="388.60" y2="384.20" stroke="#f0d040" stroke-width="1.1"/>
<path d="M361.8,387.2 L364.2,391.0 L367.5,393.6 L372.8,393.9" fill="none" stroke="#8a0a0a" stroke-width="6.1000000000000005" stroke-linejoin="round" stroke-linecap="round" stroke-opacity="0.55"/>
<path d="M361.8,387.2 L364.2,391.0 L367.5,393.6 L372.8,393.9" fill="none" stroke="#d82020" stroke-width="5.2" stroke-linejoin="round" stroke-linecap="round"/>
<path d="M361.5,386.0 L364.5,388.5" fill="none" stroke="#8a0a0a" stroke-width="4.9" stroke-linejoin="round" stroke-linecap="round" stroke-opacity="0.55"/>
<path d="M361.5,386.0 L364.5,388.5" fill="none" stroke="#e03030" stroke-width="4.0" stroke-linejoin="round" stroke-linecap="round"/>
<path d="M373.0,393.9 L376.6,394.2" fill="none" stroke="#151570" stroke-width="5.5" stroke-linejoin="round" stroke-linecap="round" stroke-opacity="0.55"/>
<path d="M373.0,393.9 L376.6,394.2" fill="none" stroke="#2c2ca8" stroke-width="4.6" stroke-linejoin="round" stroke-linecap="round"/>
<line x1="445.40" y1="360.20" x2="445.80" y2="362.70" stroke="#e02020" stroke-width="1.1"/>
<line x1="448.10" y1="360.40" x2="448.50" y2="362.70" stroke="#e02020" stroke-width="1.1"/>
<line x1="464.20" y1="317.80" x2="465.20" y2="320.20" stroke="#e02020" stroke-width="1.1"/>
<line x1="467.60" y1="318.80" x2="468.60" y2="321.00" stroke="#e02020" stroke-width="1.1"/>
<line x1="473.40" y1="331.60" x2="474.80" y2="332.60" stroke="#e02020" stroke-width="1.1"/>
<line x1="475.80" y1="333.60" x2="477.20" y2="334.60" stroke="#e02020" stroke-width="1.1"/>
<line x1="360.60" y1="367.60" x2="363.60" y2="369.00" stroke="#e02020" stroke-width="1.1"/>
<line x1="360.60" y1="370.40" x2="363.60" y2="371.80" stroke="#e02020" stroke-width="1.1"/>
<line x1="378.50" y1="353.50" x2="381.00" y2="354.50" stroke="#e02020" stroke-width="1.1"/>
<line x1="382.00" y1="358.00" x2="384.00" y2="357.50" stroke="#e02020" stroke-width="1.1"/>
<line x1="447.50" y1="282.80" x2="398.50" y2="296.00" stroke="#333" stroke-width="0.9"/>
<line x1="432.50" y1="380.50" x2="437.60" y2="400.50" stroke="#333" stroke-width="0.9"/>
<line x1="391.30" y1="393.80" x2="398.80" y2="418.80" stroke="#333" stroke-width="0.9"/>
<line x1="370.00" y1="400.00" x2="378.80" y2="436.00" stroke="#333" stroke-width="0.9"/>
<text x="258.60" y="241.80" font-size="13.6" fill="#000" text-anchor="start" textLength="9.40" lengthAdjust="spacingAndGlyphs" font-weight="bold">D</text>
<text x="449.80" y="286.30" font-size="9.8" fill="#7d7d7d" text-anchor="start" textLength="45.60" lengthAdjust="spacingAndGlyphs">N-terminus</text>
<text x="269.20" y="338.50" font-size="9.8" fill="#7d7d7d" text-anchor="start" textLength="45.20" lengthAdjust="spacingAndGlyphs">C-terminus</text>
<text x="477.20" y="327.00" font-size="9.9" fill="#8a2a9a" text-anchor="start" textLength="20.60" lengthAdjust="spacingAndGlyphs">K173</text>
<text x="497.30" y="330.60" font-size="7.2" fill="#8a2a9a" text-anchor="start" textLength="8.80" lengthAdjust="spacingAndGlyphs">CT</text>
<text x="463.90" y="378.70" font-size="9.9" fill="#e8921e" text-anchor="start" textLength="21.60" lengthAdjust="spacingAndGlyphs">R170</text>
<text x="484.60" y="382.30" font-size="7.2" fill="#e8921e" text-anchor="start" textLength="8.80" lengthAdjust="spacingAndGlyphs">CT</text>
<text x="436.40" y="412.20" font-size="9.9" fill="#d874bc" text-anchor="start" textLength="21.20" lengthAdjust="spacingAndGlyphs">R165</text>
<text x="456.60" y="415.80" font-size="7.2" fill="#d874bc" text-anchor="start" textLength="9.20" lengthAdjust="spacingAndGlyphs">CT</text>
<text x="395.40" y="389.90" font-size="9.9" fill="#3c903c" text-anchor="start" textLength="20.60" lengthAdjust="spacingAndGlyphs">K230</text>
<text x="415.80" y="393.50" font-size="7.2" fill="#3c903c" text-anchor="start" textLength="9.00" lengthAdjust="spacingAndGlyphs">CT</text>
<text x="395.40" y="427.90" font-size="9.9" fill="#e8982a" text-anchor="start" textLength="20.60" lengthAdjust="spacingAndGlyphs">R233</text>
<text x="415.80" y="431.50" font-size="7.2" fill="#e8982a" text-anchor="start" textLength="9.00" lengthAdjust="spacingAndGlyphs">CT</text>
<text x="365.40" y="444.70" font-size="9.9" fill="#d42a2a" text-anchor="start" textLength="21.40" lengthAdjust="spacingAndGlyphs">K126</text>
<text x="386.60" y="448.30" font-size="7.2" fill="#d42a2a" text-anchor="start" textLength="8.80" lengthAdjust="spacingAndGlyphs">CT</text>
<rect x="0" y="0" width="520" height="1.25" fill="#000"/><rect x="0" y="0" width="1.25" height="472" fill="#000"/><rect x="518" y="0" width="2" height="472" fill="#000"/><rect x="0" y="470.7" width="520" height="1.3" fill="#000"/>
</svg>
</body></html>
